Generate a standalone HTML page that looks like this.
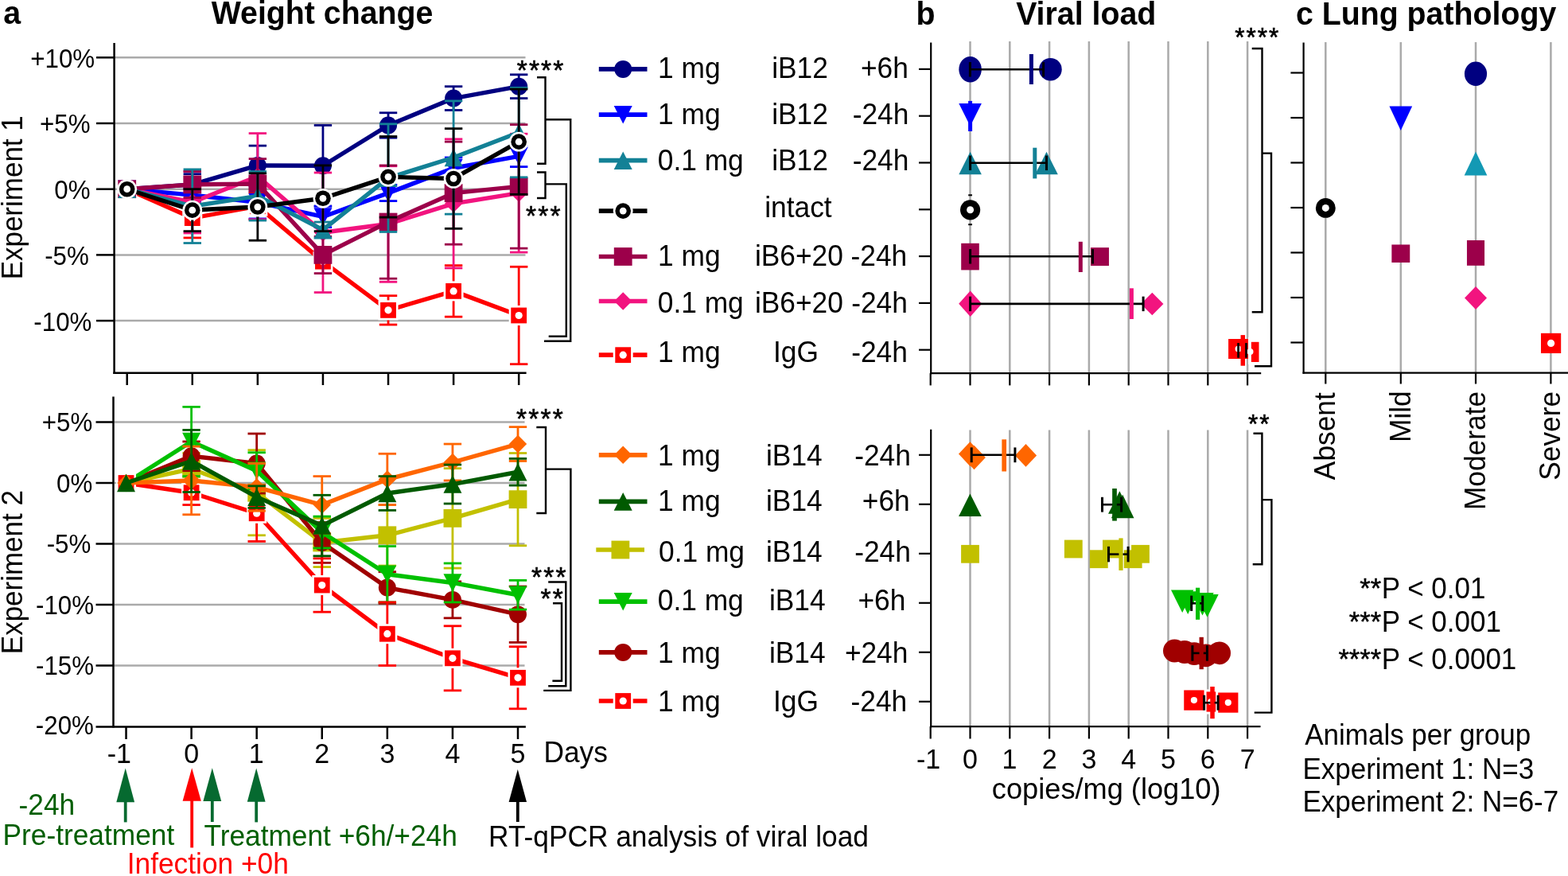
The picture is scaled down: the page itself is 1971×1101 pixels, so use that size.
<!DOCTYPE html>
<html><head><meta charset="utf-8"><title>Figure</title>
<style>html,body{margin:0;padding:0;background:#fff;} svg{display:block;}</style>
</head><body>
<svg width="1971" height="1101" viewBox="0 0 1971 1101" font-family="'Liberation Sans', Arial, Helvetica, sans-serif">
<rect width="1971" height="1101" fill="#fff"/>
<line x1="144.6" y1="72.3" x2="660.5" y2="72.3" stroke="#AAAAAA" stroke-width="2.5" stroke-linecap="butt"/>
<line x1="144.6" y1="155" x2="660.5" y2="155" stroke="#AAAAAA" stroke-width="2.5" stroke-linecap="butt"/>
<line x1="144.6" y1="237.7" x2="660.5" y2="237.7" stroke="#AAAAAA" stroke-width="2.5" stroke-linecap="butt"/>
<line x1="144.6" y1="320.4" x2="660.5" y2="320.4" stroke="#AAAAAA" stroke-width="2.5" stroke-linecap="butt"/>
<line x1="144.6" y1="403.1" x2="660.5" y2="403.1" stroke="#AAAAAA" stroke-width="2.5" stroke-linecap="butt"/>
<line x1="143.5" y1="530.5" x2="659.5" y2="530.5" stroke="#AAAAAA" stroke-width="2.5" stroke-linecap="butt"/>
<line x1="143.5" y1="607" x2="659.5" y2="607" stroke="#AAAAAA" stroke-width="2.5" stroke-linecap="butt"/>
<line x1="143.5" y1="683.5" x2="659.5" y2="683.5" stroke="#AAAAAA" stroke-width="2.5" stroke-linecap="butt"/>
<line x1="143.5" y1="760" x2="659.5" y2="760" stroke="#AAAAAA" stroke-width="2.5" stroke-linecap="butt"/>
<line x1="143.5" y1="836.5" x2="659.5" y2="836.5" stroke="#AAAAAA" stroke-width="2.5" stroke-linecap="butt"/>
<line x1="241.78" y1="249.28" x2="241.78" y2="298.9" stroke="#FF0000" stroke-width="2.8" stroke-linecap="butt"/>
<line x1="230.58" y1="249.28" x2="252.98" y2="249.28" stroke="#FF0000" stroke-width="2.8" stroke-linecap="butt"/>
<line x1="230.58" y1="298.9" x2="252.98" y2="298.9" stroke="#FF0000" stroke-width="2.8" stroke-linecap="butt"/>
<line x1="323.86" y1="242.66" x2="323.86" y2="275.74" stroke="#FF0000" stroke-width="2.8" stroke-linecap="butt"/>
<line x1="312.66" y1="242.66" x2="335.06" y2="242.66" stroke="#FF0000" stroke-width="2.8" stroke-linecap="butt"/>
<line x1="312.66" y1="275.74" x2="335.06" y2="275.74" stroke="#FF0000" stroke-width="2.8" stroke-linecap="butt"/>
<line x1="405.94" y1="320.4" x2="405.94" y2="336.94" stroke="#FF0000" stroke-width="2.8" stroke-linecap="butt"/>
<line x1="394.74" y1="320.4" x2="417.14" y2="320.4" stroke="#FF0000" stroke-width="2.8" stroke-linecap="butt"/>
<line x1="394.74" y1="336.94" x2="417.14" y2="336.94" stroke="#FF0000" stroke-width="2.8" stroke-linecap="butt"/>
<line x1="488.02" y1="371.67" x2="488.02" y2="408.06" stroke="#FF0000" stroke-width="2.8" stroke-linecap="butt"/>
<line x1="476.82" y1="371.67" x2="499.22" y2="371.67" stroke="#FF0000" stroke-width="2.8" stroke-linecap="butt"/>
<line x1="476.82" y1="408.06" x2="499.22" y2="408.06" stroke="#FF0000" stroke-width="2.8" stroke-linecap="butt"/>
<line x1="570.1" y1="333.63" x2="570.1" y2="398.14" stroke="#FF0000" stroke-width="2.8" stroke-linecap="butt"/>
<line x1="558.9" y1="333.63" x2="581.3" y2="333.63" stroke="#FF0000" stroke-width="2.8" stroke-linecap="butt"/>
<line x1="558.9" y1="398.14" x2="581.3" y2="398.14" stroke="#FF0000" stroke-width="2.8" stroke-linecap="butt"/>
<line x1="652.18" y1="335.29" x2="652.18" y2="457.68" stroke="#FF0000" stroke-width="2.8" stroke-linecap="butt"/>
<line x1="640.98" y1="335.29" x2="663.38" y2="335.29" stroke="#FF0000" stroke-width="2.8" stroke-linecap="butt"/>
<line x1="640.98" y1="457.68" x2="663.38" y2="457.68" stroke="#FF0000" stroke-width="2.8" stroke-linecap="butt"/>
<polyline points="159.7,237.7 241.78,274.09 323.86,259.2 405.94,328.67 488.02,389.87 570.1,365.88 652.18,396.48" fill="none" stroke="#FF0000" stroke-width="5.4" stroke-linejoin="round" stroke-linecap="butt"/>
<rect x="147.2" y="225.2" width="25" height="25" fill="#fff"/>
<rect x="149.8" y="227.8" width="19.8" height="19.8" fill="#FF0000"/>
<circle cx="159.7" cy="237.7" r="4.6" fill="#fff"/>
<rect x="229.28" y="261.59" width="25" height="25" fill="#fff"/>
<rect x="231.88" y="264.19" width="19.8" height="19.8" fill="#FF0000"/>
<circle cx="241.78" cy="274.09" r="4.6" fill="#fff"/>
<rect x="311.36" y="246.7" width="25" height="25" fill="#fff"/>
<rect x="313.96" y="249.3" width="19.8" height="19.8" fill="#FF0000"/>
<circle cx="323.86" cy="259.2" r="4.6" fill="#fff"/>
<rect x="393.44" y="316.17" width="25" height="25" fill="#fff"/>
<rect x="396.04" y="318.77" width="19.8" height="19.8" fill="#FF0000"/>
<circle cx="405.94" cy="328.67" r="4.6" fill="#fff"/>
<rect x="475.52" y="377.37" width="25" height="25" fill="#fff"/>
<rect x="478.12" y="379.97" width="19.8" height="19.8" fill="#FF0000"/>
<circle cx="488.02" cy="389.87" r="4.6" fill="#fff"/>
<rect x="557.6" y="353.38" width="25" height="25" fill="#fff"/>
<rect x="560.2" y="355.99" width="19.8" height="19.8" fill="#FF0000"/>
<circle cx="570.1" cy="365.88" r="4.6" fill="#fff"/>
<rect x="639.68" y="383.98" width="25" height="25" fill="#fff"/>
<rect x="642.28" y="386.58" width="19.8" height="19.8" fill="#FF0000"/>
<circle cx="652.18" cy="396.48" r="4.6" fill="#fff"/>
<line x1="241.78" y1="218.68" x2="241.78" y2="245.14" stroke="#000080" stroke-width="2.8" stroke-linecap="butt"/>
<line x1="230.58" y1="218.68" x2="252.98" y2="218.68" stroke="#000080" stroke-width="2.8" stroke-linecap="butt"/>
<line x1="230.58" y1="245.14" x2="252.98" y2="245.14" stroke="#000080" stroke-width="2.8" stroke-linecap="butt"/>
<line x1="323.86" y1="183.12" x2="323.86" y2="232.74" stroke="#000080" stroke-width="2.8" stroke-linecap="butt"/>
<line x1="312.66" y1="183.12" x2="335.06" y2="183.12" stroke="#000080" stroke-width="2.8" stroke-linecap="butt"/>
<line x1="312.66" y1="232.74" x2="335.06" y2="232.74" stroke="#000080" stroke-width="2.8" stroke-linecap="butt"/>
<line x1="405.94" y1="157.48" x2="405.94" y2="259.04" stroke="#000080" stroke-width="2.8" stroke-linecap="butt"/>
<line x1="394.74" y1="157.48" x2="417.14" y2="157.48" stroke="#000080" stroke-width="2.8" stroke-linecap="butt"/>
<line x1="394.74" y1="259.04" x2="417.14" y2="259.04" stroke="#000080" stroke-width="2.8" stroke-linecap="butt"/>
<line x1="488.02" y1="141.77" x2="488.02" y2="173.19" stroke="#000080" stroke-width="2.8" stroke-linecap="butt"/>
<line x1="476.82" y1="141.77" x2="499.22" y2="141.77" stroke="#000080" stroke-width="2.8" stroke-linecap="butt"/>
<line x1="476.82" y1="173.19" x2="499.22" y2="173.19" stroke="#000080" stroke-width="2.8" stroke-linecap="butt"/>
<line x1="570.1" y1="108.69" x2="570.1" y2="138.46" stroke="#000080" stroke-width="2.8" stroke-linecap="butt"/>
<line x1="558.9" y1="108.69" x2="581.3" y2="108.69" stroke="#000080" stroke-width="2.8" stroke-linecap="butt"/>
<line x1="558.9" y1="138.46" x2="581.3" y2="138.46" stroke="#000080" stroke-width="2.8" stroke-linecap="butt"/>
<line x1="652.18" y1="93.8" x2="652.18" y2="123.57" stroke="#000080" stroke-width="2.8" stroke-linecap="butt"/>
<line x1="640.98" y1="93.8" x2="663.38" y2="93.8" stroke="#000080" stroke-width="2.8" stroke-linecap="butt"/>
<line x1="640.98" y1="123.57" x2="663.38" y2="123.57" stroke="#000080" stroke-width="2.8" stroke-linecap="butt"/>
<polyline points="159.7,237.7 241.78,231.91 323.86,207.93 405.94,208.26 488.02,157.48 570.1,123.57 652.18,108.69" fill="none" stroke="#000080" stroke-width="5.4" stroke-linejoin="round" stroke-linecap="butt"/>
<circle cx="159.7" cy="237.7" r="11" fill="#000080"/>
<circle cx="241.78" cy="231.91" r="11" fill="#000080"/>
<circle cx="323.86" cy="207.93" r="11" fill="#000080"/>
<circle cx="405.94" cy="208.26" r="11" fill="#000080"/>
<circle cx="488.02" cy="157.48" r="11" fill="#000080"/>
<circle cx="570.1" cy="123.57" r="11" fill="#000080"/>
<circle cx="652.18" cy="108.69" r="11" fill="#000080"/>
<line x1="241.78" y1="236.87" x2="241.78" y2="253.41" stroke="#0000FF" stroke-width="2.8" stroke-linecap="butt"/>
<line x1="230.58" y1="236.87" x2="252.98" y2="236.87" stroke="#0000FF" stroke-width="2.8" stroke-linecap="butt"/>
<line x1="230.58" y1="253.41" x2="252.98" y2="253.41" stroke="#0000FF" stroke-width="2.8" stroke-linecap="butt"/>
<line x1="323.86" y1="233.56" x2="323.86" y2="274.91" stroke="#0000FF" stroke-width="2.8" stroke-linecap="butt"/>
<line x1="312.66" y1="233.56" x2="335.06" y2="233.56" stroke="#0000FF" stroke-width="2.8" stroke-linecap="butt"/>
<line x1="312.66" y1="274.91" x2="335.06" y2="274.91" stroke="#0000FF" stroke-width="2.8" stroke-linecap="butt"/>
<line x1="405.94" y1="259.2" x2="405.94" y2="285.67" stroke="#0000FF" stroke-width="2.8" stroke-linecap="butt"/>
<line x1="394.74" y1="259.2" x2="417.14" y2="259.2" stroke="#0000FF" stroke-width="2.8" stroke-linecap="butt"/>
<line x1="394.74" y1="285.67" x2="417.14" y2="285.67" stroke="#0000FF" stroke-width="2.8" stroke-linecap="butt"/>
<line x1="488.02" y1="232.74" x2="488.02" y2="252.59" stroke="#0000FF" stroke-width="2.8" stroke-linecap="butt"/>
<line x1="476.82" y1="232.74" x2="499.22" y2="232.74" stroke="#0000FF" stroke-width="2.8" stroke-linecap="butt"/>
<line x1="476.82" y1="252.59" x2="499.22" y2="252.59" stroke="#0000FF" stroke-width="2.8" stroke-linecap="butt"/>
<line x1="570.1" y1="198" x2="570.1" y2="224.47" stroke="#0000FF" stroke-width="2.8" stroke-linecap="butt"/>
<line x1="558.9" y1="198" x2="581.3" y2="198" stroke="#0000FF" stroke-width="2.8" stroke-linecap="butt"/>
<line x1="558.9" y1="224.47" x2="581.3" y2="224.47" stroke="#0000FF" stroke-width="2.8" stroke-linecap="butt"/>
<line x1="652.18" y1="183.12" x2="652.18" y2="209.58" stroke="#0000FF" stroke-width="2.8" stroke-linecap="butt"/>
<line x1="640.98" y1="183.12" x2="663.38" y2="183.12" stroke="#0000FF" stroke-width="2.8" stroke-linecap="butt"/>
<line x1="640.98" y1="209.58" x2="663.38" y2="209.58" stroke="#0000FF" stroke-width="2.8" stroke-linecap="butt"/>
<polyline points="159.7,237.7 241.78,245.14 323.86,254.24 405.94,272.43 488.02,242.66 570.1,211.24 652.18,196.35" fill="none" stroke="#0000FF" stroke-width="5.4" stroke-linejoin="round" stroke-linecap="butt"/>
<polygon points="148.2,226.4 171.2,226.4 159.7,249" fill="#0000FF"/>
<polygon points="230.28,233.84 253.28,233.84 241.78,256.44" fill="#0000FF"/>
<polygon points="312.36,242.94 335.36,242.94 323.86,265.54" fill="#0000FF"/>
<polygon points="394.44,261.13 417.44,261.13 405.94,283.73" fill="#0000FF"/>
<polygon points="476.52,231.36 499.52,231.36 488.02,253.96" fill="#0000FF"/>
<polygon points="558.6,199.94 581.6,199.94 570.1,222.54" fill="#0000FF"/>
<polygon points="640.68,185.05 663.68,185.05 652.18,207.65" fill="#0000FF"/>
<line x1="241.78" y1="215.54" x2="241.78" y2="292.94" stroke="#F2147F" stroke-width="2.8" stroke-linecap="butt"/>
<line x1="230.58" y1="215.54" x2="252.98" y2="215.54" stroke="#F2147F" stroke-width="2.8" stroke-linecap="butt"/>
<line x1="230.58" y1="292.94" x2="252.98" y2="292.94" stroke="#F2147F" stroke-width="2.8" stroke-linecap="butt"/>
<line x1="323.86" y1="167.57" x2="323.86" y2="275.74" stroke="#F2147F" stroke-width="2.8" stroke-linecap="butt"/>
<line x1="312.66" y1="167.57" x2="335.06" y2="167.57" stroke="#F2147F" stroke-width="2.8" stroke-linecap="butt"/>
<line x1="312.66" y1="275.74" x2="335.06" y2="275.74" stroke="#F2147F" stroke-width="2.8" stroke-linecap="butt"/>
<line x1="405.94" y1="217.02" x2="405.94" y2="367.54" stroke="#F2147F" stroke-width="2.8" stroke-linecap="butt"/>
<line x1="394.74" y1="217.02" x2="417.14" y2="217.02" stroke="#F2147F" stroke-width="2.8" stroke-linecap="butt"/>
<line x1="394.74" y1="367.54" x2="417.14" y2="367.54" stroke="#F2147F" stroke-width="2.8" stroke-linecap="butt"/>
<line x1="488.02" y1="208.75" x2="488.02" y2="354.31" stroke="#F2147F" stroke-width="2.8" stroke-linecap="butt"/>
<line x1="476.82" y1="208.75" x2="499.22" y2="208.75" stroke="#F2147F" stroke-width="2.8" stroke-linecap="butt"/>
<line x1="476.82" y1="354.31" x2="499.22" y2="354.31" stroke="#F2147F" stroke-width="2.8" stroke-linecap="butt"/>
<line x1="570.1" y1="174.85" x2="570.1" y2="336.94" stroke="#F2147F" stroke-width="2.8" stroke-linecap="butt"/>
<line x1="558.9" y1="174.85" x2="581.3" y2="174.85" stroke="#F2147F" stroke-width="2.8" stroke-linecap="butt"/>
<line x1="558.9" y1="336.94" x2="581.3" y2="336.94" stroke="#F2147F" stroke-width="2.8" stroke-linecap="butt"/>
<line x1="652.18" y1="168.23" x2="652.18" y2="317.09" stroke="#F2147F" stroke-width="2.8" stroke-linecap="butt"/>
<line x1="640.98" y1="168.23" x2="663.38" y2="168.23" stroke="#F2147F" stroke-width="2.8" stroke-linecap="butt"/>
<line x1="640.98" y1="317.09" x2="663.38" y2="317.09" stroke="#F2147F" stroke-width="2.8" stroke-linecap="butt"/>
<polyline points="159.7,237.7 241.78,254.24 323.86,221.66 405.94,292.28 488.02,281.53 570.1,255.89 652.18,242.66" fill="none" stroke="#F2147F" stroke-width="5.4" stroke-linejoin="round" stroke-linecap="butt"/>
<polygon points="159.7,226.5 170.9,237.7 159.7,248.9 148.5,237.7" fill="#F2147F"/>
<polygon points="241.78,243.04 252.98,254.24 241.78,265.44 230.58,254.24" fill="#F2147F"/>
<polygon points="323.86,210.46 335.06,221.66 323.86,232.86 312.66,221.66" fill="#F2147F"/>
<polygon points="405.94,281.08 417.14,292.28 405.94,303.48 394.74,292.28" fill="#F2147F"/>
<polygon points="488.02,270.33 499.22,281.53 488.02,292.73 476.82,281.53" fill="#F2147F"/>
<polygon points="570.1,244.69 581.3,255.89 570.1,267.09 558.9,255.89" fill="#F2147F"/>
<polygon points="652.18,231.46 663.38,242.66 652.18,253.86 640.98,242.66" fill="#F2147F"/>
<line x1="241.78" y1="215.37" x2="241.78" y2="248.45" stroke="#9C004A" stroke-width="2.8" stroke-linecap="butt"/>
<line x1="230.58" y1="215.37" x2="252.98" y2="215.37" stroke="#9C004A" stroke-width="2.8" stroke-linecap="butt"/>
<line x1="230.58" y1="248.45" x2="252.98" y2="248.45" stroke="#9C004A" stroke-width="2.8" stroke-linecap="butt"/>
<line x1="323.86" y1="199.66" x2="323.86" y2="262.51" stroke="#9C004A" stroke-width="2.8" stroke-linecap="butt"/>
<line x1="312.66" y1="199.66" x2="335.06" y2="199.66" stroke="#9C004A" stroke-width="2.8" stroke-linecap="butt"/>
<line x1="312.66" y1="262.51" x2="335.06" y2="262.51" stroke="#9C004A" stroke-width="2.8" stroke-linecap="butt"/>
<line x1="405.94" y1="297.24" x2="405.94" y2="343.56" stroke="#9C004A" stroke-width="2.8" stroke-linecap="butt"/>
<line x1="394.74" y1="297.24" x2="417.14" y2="297.24" stroke="#9C004A" stroke-width="2.8" stroke-linecap="butt"/>
<line x1="394.74" y1="343.56" x2="417.14" y2="343.56" stroke="#9C004A" stroke-width="2.8" stroke-linecap="butt"/>
<line x1="488.02" y1="207.93" x2="488.02" y2="350.17" stroke="#9C004A" stroke-width="2.8" stroke-linecap="butt"/>
<line x1="476.82" y1="207.93" x2="499.22" y2="207.93" stroke="#9C004A" stroke-width="2.8" stroke-linecap="butt"/>
<line x1="476.82" y1="350.17" x2="499.22" y2="350.17" stroke="#9C004A" stroke-width="2.8" stroke-linecap="butt"/>
<line x1="570.1" y1="178.16" x2="570.1" y2="307.17" stroke="#9C004A" stroke-width="2.8" stroke-linecap="butt"/>
<line x1="558.9" y1="178.16" x2="581.3" y2="178.16" stroke="#9C004A" stroke-width="2.8" stroke-linecap="butt"/>
<line x1="558.9" y1="307.17" x2="581.3" y2="307.17" stroke="#9C004A" stroke-width="2.8" stroke-linecap="butt"/>
<line x1="652.18" y1="156.65" x2="652.18" y2="312.13" stroke="#9C004A" stroke-width="2.8" stroke-linecap="butt"/>
<line x1="640.98" y1="156.65" x2="663.38" y2="156.65" stroke="#9C004A" stroke-width="2.8" stroke-linecap="butt"/>
<line x1="640.98" y1="312.13" x2="663.38" y2="312.13" stroke="#9C004A" stroke-width="2.8" stroke-linecap="butt"/>
<polyline points="159.7,237.7 241.78,231.91 323.86,231.08 405.94,320.4 488.02,279.05 570.1,242.66 652.18,234.39" fill="none" stroke="#9C004A" stroke-width="5.4" stroke-linejoin="round" stroke-linecap="butt"/>
<rect x="148.3" y="226.3" width="22.8" height="22.8" fill="#9C004A"/>
<rect x="230.38" y="220.51" width="22.8" height="22.8" fill="#9C004A"/>
<rect x="312.46" y="219.68" width="22.8" height="22.8" fill="#9C004A"/>
<rect x="394.54" y="309" width="22.8" height="22.8" fill="#9C004A"/>
<rect x="476.62" y="267.65" width="22.8" height="22.8" fill="#9C004A"/>
<rect x="558.7" y="231.26" width="22.8" height="22.8" fill="#9C004A"/>
<rect x="640.78" y="222.99" width="22.8" height="22.8" fill="#9C004A"/>
<line x1="241.78" y1="212.89" x2="241.78" y2="305.51" stroke="#138196" stroke-width="2.8" stroke-linecap="butt"/>
<line x1="230.58" y1="212.89" x2="252.98" y2="212.89" stroke="#138196" stroke-width="2.8" stroke-linecap="butt"/>
<line x1="230.58" y1="305.51" x2="252.98" y2="305.51" stroke="#138196" stroke-width="2.8" stroke-linecap="butt"/>
<line x1="323.86" y1="215.54" x2="323.86" y2="277.07" stroke="#138196" stroke-width="2.8" stroke-linecap="butt"/>
<line x1="312.66" y1="215.54" x2="335.06" y2="215.54" stroke="#138196" stroke-width="2.8" stroke-linecap="butt"/>
<line x1="312.66" y1="277.07" x2="335.06" y2="277.07" stroke="#138196" stroke-width="2.8" stroke-linecap="butt"/>
<line x1="405.94" y1="279.05" x2="405.94" y2="298.9" stroke="#138196" stroke-width="2.8" stroke-linecap="butt"/>
<line x1="394.74" y1="279.05" x2="417.14" y2="279.05" stroke="#138196" stroke-width="2.8" stroke-linecap="butt"/>
<line x1="394.74" y1="298.9" x2="417.14" y2="298.9" stroke="#138196" stroke-width="2.8" stroke-linecap="butt"/>
<line x1="488.02" y1="155.83" x2="488.02" y2="291.45" stroke="#138196" stroke-width="2.8" stroke-linecap="butt"/>
<line x1="476.82" y1="155.83" x2="499.22" y2="155.83" stroke="#138196" stroke-width="2.8" stroke-linecap="butt"/>
<line x1="476.82" y1="291.45" x2="499.22" y2="291.45" stroke="#138196" stroke-width="2.8" stroke-linecap="butt"/>
<line x1="570.1" y1="126.88" x2="570.1" y2="269.13" stroke="#138196" stroke-width="2.8" stroke-linecap="butt"/>
<line x1="558.9" y1="126.88" x2="581.3" y2="126.88" stroke="#138196" stroke-width="2.8" stroke-linecap="butt"/>
<line x1="558.9" y1="269.13" x2="581.3" y2="269.13" stroke="#138196" stroke-width="2.8" stroke-linecap="butt"/>
<line x1="652.18" y1="110.34" x2="652.18" y2="222.81" stroke="#138196" stroke-width="2.8" stroke-linecap="butt"/>
<line x1="640.98" y1="110.34" x2="663.38" y2="110.34" stroke="#138196" stroke-width="2.8" stroke-linecap="butt"/>
<line x1="640.98" y1="222.81" x2="663.38" y2="222.81" stroke="#138196" stroke-width="2.8" stroke-linecap="butt"/>
<polyline points="159.7,237.7 241.78,259.2 323.86,246.3 405.94,288.97 488.02,223.64 570.1,198 652.18,166.58" fill="none" stroke="#138196" stroke-width="5.4" stroke-linejoin="round" stroke-linecap="butt"/>
<polygon points="159.7,226.4 171.2,249 148.2,249" fill="#138196"/>
<polygon points="241.78,247.9 253.28,270.5 230.28,270.5" fill="#138196"/>
<polygon points="323.86,235 335.36,257.6 312.36,257.6" fill="#138196"/>
<polygon points="405.94,277.67 417.44,300.27 394.44,300.27" fill="#138196"/>
<polygon points="488.02,212.34 499.52,234.94 476.52,234.94" fill="#138196"/>
<polygon points="570.1,186.7 581.6,209.3 558.6,209.3" fill="#138196"/>
<polygon points="652.18,155.28 663.68,177.88 640.68,177.88" fill="#138196"/>
<line x1="241.78" y1="237.7" x2="241.78" y2="290.63" stroke="#000000" stroke-width="2.8" stroke-linecap="butt"/>
<line x1="230.58" y1="237.7" x2="252.98" y2="237.7" stroke="#000000" stroke-width="2.8" stroke-linecap="butt"/>
<line x1="230.58" y1="290.63" x2="252.98" y2="290.63" stroke="#000000" stroke-width="2.8" stroke-linecap="butt"/>
<line x1="323.86" y1="217.85" x2="323.86" y2="302.21" stroke="#000000" stroke-width="2.8" stroke-linecap="butt"/>
<line x1="312.66" y1="217.85" x2="335.06" y2="217.85" stroke="#000000" stroke-width="2.8" stroke-linecap="butt"/>
<line x1="312.66" y1="302.21" x2="335.06" y2="302.21" stroke="#000000" stroke-width="2.8" stroke-linecap="butt"/>
<line x1="405.94" y1="207.93" x2="405.94" y2="290.63" stroke="#000000" stroke-width="2.8" stroke-linecap="butt"/>
<line x1="394.74" y1="207.93" x2="417.14" y2="207.93" stroke="#000000" stroke-width="2.8" stroke-linecap="butt"/>
<line x1="394.74" y1="290.63" x2="417.14" y2="290.63" stroke="#000000" stroke-width="2.8" stroke-linecap="butt"/>
<line x1="488.02" y1="171.54" x2="488.02" y2="273.1" stroke="#000000" stroke-width="2.8" stroke-linecap="butt"/>
<line x1="476.82" y1="171.54" x2="499.22" y2="171.54" stroke="#000000" stroke-width="2.8" stroke-linecap="butt"/>
<line x1="476.82" y1="273.1" x2="499.22" y2="273.1" stroke="#000000" stroke-width="2.8" stroke-linecap="butt"/>
<line x1="570.1" y1="161.62" x2="570.1" y2="287.32" stroke="#000000" stroke-width="2.8" stroke-linecap="butt"/>
<line x1="558.9" y1="161.62" x2="581.3" y2="161.62" stroke="#000000" stroke-width="2.8" stroke-linecap="butt"/>
<line x1="558.9" y1="287.32" x2="581.3" y2="287.32" stroke="#000000" stroke-width="2.8" stroke-linecap="butt"/>
<line x1="652.18" y1="112" x2="652.18" y2="244.32" stroke="#000000" stroke-width="2.8" stroke-linecap="butt"/>
<line x1="640.98" y1="112" x2="663.38" y2="112" stroke="#000000" stroke-width="2.8" stroke-linecap="butt"/>
<line x1="640.98" y1="244.32" x2="663.38" y2="244.32" stroke="#000000" stroke-width="2.8" stroke-linecap="butt"/>
<polyline points="159.7,237.7 241.78,264.16 323.86,260.03 405.94,249.28 488.02,222.32 570.1,224.47 652.18,178.16" fill="none" stroke="#000000" stroke-width="5.4" stroke-linejoin="round" stroke-linecap="butt"/>
<circle cx="159.7" cy="237.7" r="12.4" fill="#fff"/>
<circle cx="159.7" cy="237.7" r="9.8" fill="#000"/>
<circle cx="159.7" cy="237.7" r="4.4" fill="#fff"/>
<circle cx="241.78" cy="264.16" r="12.4" fill="#fff"/>
<circle cx="241.78" cy="264.16" r="9.8" fill="#000"/>
<circle cx="241.78" cy="264.16" r="4.4" fill="#fff"/>
<circle cx="323.86" cy="260.03" r="12.4" fill="#fff"/>
<circle cx="323.86" cy="260.03" r="9.8" fill="#000"/>
<circle cx="323.86" cy="260.03" r="4.4" fill="#fff"/>
<circle cx="405.94" cy="249.28" r="12.4" fill="#fff"/>
<circle cx="405.94" cy="249.28" r="9.8" fill="#000"/>
<circle cx="405.94" cy="249.28" r="4.4" fill="#fff"/>
<circle cx="488.02" cy="222.32" r="12.4" fill="#fff"/>
<circle cx="488.02" cy="222.32" r="9.8" fill="#000"/>
<circle cx="488.02" cy="222.32" r="4.4" fill="#fff"/>
<circle cx="570.1" cy="224.47" r="12.4" fill="#fff"/>
<circle cx="570.1" cy="224.47" r="9.8" fill="#000"/>
<circle cx="570.1" cy="224.47" r="4.4" fill="#fff"/>
<circle cx="652.18" cy="178.16" r="12.4" fill="#fff"/>
<circle cx="652.18" cy="178.16" r="9.8" fill="#000"/>
<circle cx="652.18" cy="178.16" r="4.4" fill="#fff"/>
<line x1="240.6" y1="569.51" x2="240.6" y2="609.29" stroke="#C2C000" stroke-width="2.8" stroke-linecap="butt"/>
<line x1="229.4" y1="569.51" x2="251.8" y2="569.51" stroke="#C2C000" stroke-width="2.8" stroke-linecap="butt"/>
<line x1="229.4" y1="609.29" x2="251.8" y2="609.29" stroke="#C2C000" stroke-width="2.8" stroke-linecap="butt"/>
<line x1="322.68" y1="565.69" x2="322.68" y2="672.79" stroke="#C2C000" stroke-width="2.8" stroke-linecap="butt"/>
<line x1="311.48" y1="565.69" x2="333.88" y2="565.69" stroke="#C2C000" stroke-width="2.8" stroke-linecap="butt"/>
<line x1="311.48" y1="672.79" x2="333.88" y2="672.79" stroke="#C2C000" stroke-width="2.8" stroke-linecap="butt"/>
<line x1="404.76" y1="651.37" x2="404.76" y2="712.57" stroke="#C2C000" stroke-width="2.8" stroke-linecap="butt"/>
<line x1="393.56" y1="651.37" x2="415.96" y2="651.37" stroke="#C2C000" stroke-width="2.8" stroke-linecap="butt"/>
<line x1="393.56" y1="712.57" x2="415.96" y2="712.57" stroke="#C2C000" stroke-width="2.8" stroke-linecap="butt"/>
<line x1="486.84" y1="634.54" x2="486.84" y2="711.04" stroke="#C2C000" stroke-width="2.8" stroke-linecap="butt"/>
<line x1="475.64" y1="634.54" x2="498.04" y2="634.54" stroke="#C2C000" stroke-width="2.8" stroke-linecap="butt"/>
<line x1="475.64" y1="711.04" x2="498.04" y2="711.04" stroke="#C2C000" stroke-width="2.8" stroke-linecap="butt"/>
<line x1="568.92" y1="588.64" x2="568.92" y2="714.1" stroke="#C2C000" stroke-width="2.8" stroke-linecap="butt"/>
<line x1="557.72" y1="588.64" x2="580.12" y2="588.64" stroke="#C2C000" stroke-width="2.8" stroke-linecap="butt"/>
<line x1="557.72" y1="714.1" x2="580.12" y2="714.1" stroke="#C2C000" stroke-width="2.8" stroke-linecap="butt"/>
<line x1="651" y1="569.51" x2="651" y2="685.8" stroke="#C2C000" stroke-width="2.8" stroke-linecap="butt"/>
<line x1="639.8" y1="569.51" x2="662.2" y2="569.51" stroke="#C2C000" stroke-width="2.8" stroke-linecap="butt"/>
<line x1="639.8" y1="685.8" x2="662.2" y2="685.8" stroke="#C2C000" stroke-width="2.8" stroke-linecap="butt"/>
<polyline points="158.52,607 240.6,589.4 322.68,619.24 404.76,681.97 486.84,672.79 568.92,651.37 651,627.65" fill="none" stroke="#C2C000" stroke-width="5.4" stroke-linejoin="round" stroke-linecap="butt"/>
<rect x="147.12" y="595.6" width="22.8" height="22.8" fill="#C2C000"/>
<rect x="229.2" y="578" width="22.8" height="22.8" fill="#C2C000"/>
<rect x="311.28" y="607.84" width="22.8" height="22.8" fill="#C2C000"/>
<rect x="393.36" y="670.57" width="22.8" height="22.8" fill="#C2C000"/>
<rect x="475.44" y="661.39" width="22.8" height="22.8" fill="#C2C000"/>
<rect x="557.52" y="639.97" width="22.8" height="22.8" fill="#C2C000"/>
<rect x="639.6" y="616.25" width="22.8" height="22.8" fill="#C2C000"/>
<line x1="240.6" y1="554.98" x2="240.6" y2="591.7" stroke="#A00000" stroke-width="2.8" stroke-linecap="butt"/>
<line x1="229.4" y1="554.98" x2="251.8" y2="554.98" stroke="#A00000" stroke-width="2.8" stroke-linecap="butt"/>
<line x1="229.4" y1="591.7" x2="251.8" y2="591.7" stroke="#A00000" stroke-width="2.8" stroke-linecap="butt"/>
<line x1="322.68" y1="545.03" x2="322.68" y2="620" stroke="#A00000" stroke-width="2.8" stroke-linecap="butt"/>
<line x1="311.48" y1="545.03" x2="333.88" y2="545.03" stroke="#A00000" stroke-width="2.8" stroke-linecap="butt"/>
<line x1="311.48" y1="620" x2="333.88" y2="620" stroke="#A00000" stroke-width="2.8" stroke-linecap="butt"/>
<line x1="404.76" y1="656.57" x2="404.76" y2="707.37" stroke="#A00000" stroke-width="2.8" stroke-linecap="butt"/>
<line x1="393.56" y1="656.57" x2="415.96" y2="656.57" stroke="#A00000" stroke-width="2.8" stroke-linecap="butt"/>
<line x1="393.56" y1="707.37" x2="415.96" y2="707.37" stroke="#A00000" stroke-width="2.8" stroke-linecap="butt"/>
<line x1="486.84" y1="718.69" x2="486.84" y2="758.47" stroke="#A00000" stroke-width="2.8" stroke-linecap="butt"/>
<line x1="475.64" y1="718.69" x2="498.04" y2="718.69" stroke="#A00000" stroke-width="2.8" stroke-linecap="butt"/>
<line x1="475.64" y1="758.47" x2="498.04" y2="758.47" stroke="#A00000" stroke-width="2.8" stroke-linecap="butt"/>
<line x1="568.92" y1="730.93" x2="568.92" y2="776.83" stroke="#A00000" stroke-width="2.8" stroke-linecap="butt"/>
<line x1="557.72" y1="730.93" x2="580.12" y2="730.93" stroke="#A00000" stroke-width="2.8" stroke-linecap="butt"/>
<line x1="557.72" y1="776.83" x2="580.12" y2="776.83" stroke="#A00000" stroke-width="2.8" stroke-linecap="butt"/>
<line x1="651" y1="737.05" x2="651" y2="807.43" stroke="#A00000" stroke-width="2.8" stroke-linecap="butt"/>
<line x1="639.8" y1="737.05" x2="662.2" y2="737.05" stroke="#A00000" stroke-width="2.8" stroke-linecap="butt"/>
<line x1="639.8" y1="807.43" x2="662.2" y2="807.43" stroke="#A00000" stroke-width="2.8" stroke-linecap="butt"/>
<polyline points="158.52,607 240.6,573.34 322.68,582.52 404.76,681.97 486.84,738.58 568.92,753.88 651,772.24" fill="none" stroke="#A00000" stroke-width="5.4" stroke-linejoin="round" stroke-linecap="butt"/>
<circle cx="158.52" cy="607" r="11" fill="#A00000"/>
<circle cx="240.6" cy="573.34" r="11" fill="#A00000"/>
<circle cx="322.68" cy="582.52" r="11" fill="#A00000"/>
<circle cx="404.76" cy="681.97" r="11" fill="#A00000"/>
<circle cx="486.84" cy="738.58" r="11" fill="#A00000"/>
<circle cx="568.92" cy="753.88" r="11" fill="#A00000"/>
<circle cx="651" cy="772.24" r="11" fill="#A00000"/>
<line x1="240.6" y1="511.38" x2="240.6" y2="598.59" stroke="#00C000" stroke-width="2.8" stroke-linecap="butt"/>
<line x1="229.4" y1="511.38" x2="251.8" y2="511.38" stroke="#00C000" stroke-width="2.8" stroke-linecap="butt"/>
<line x1="229.4" y1="598.59" x2="251.8" y2="598.59" stroke="#00C000" stroke-width="2.8" stroke-linecap="butt"/>
<line x1="322.68" y1="568.75" x2="322.68" y2="614.65" stroke="#00C000" stroke-width="2.8" stroke-linecap="butt"/>
<line x1="311.48" y1="568.75" x2="333.88" y2="568.75" stroke="#00C000" stroke-width="2.8" stroke-linecap="butt"/>
<line x1="311.48" y1="614.65" x2="333.88" y2="614.65" stroke="#00C000" stroke-width="2.8" stroke-linecap="butt"/>
<line x1="404.76" y1="649.08" x2="404.76" y2="688.86" stroke="#00C000" stroke-width="2.8" stroke-linecap="butt"/>
<line x1="393.56" y1="649.08" x2="415.96" y2="649.08" stroke="#00C000" stroke-width="2.8" stroke-linecap="butt"/>
<line x1="393.56" y1="688.86" x2="415.96" y2="688.86" stroke="#00C000" stroke-width="2.8" stroke-linecap="butt"/>
<line x1="486.84" y1="686.56" x2="486.84" y2="756.94" stroke="#00C000" stroke-width="2.8" stroke-linecap="butt"/>
<line x1="475.64" y1="686.56" x2="498.04" y2="686.56" stroke="#00C000" stroke-width="2.8" stroke-linecap="butt"/>
<line x1="475.64" y1="756.94" x2="498.04" y2="756.94" stroke="#00C000" stroke-width="2.8" stroke-linecap="butt"/>
<line x1="568.92" y1="707.98" x2="568.92" y2="756.94" stroke="#00C000" stroke-width="2.8" stroke-linecap="butt"/>
<line x1="557.72" y1="707.98" x2="580.12" y2="707.98" stroke="#00C000" stroke-width="2.8" stroke-linecap="butt"/>
<line x1="557.72" y1="756.94" x2="580.12" y2="756.94" stroke="#00C000" stroke-width="2.8" stroke-linecap="butt"/>
<line x1="651" y1="729.4" x2="651" y2="766.12" stroke="#00C000" stroke-width="2.8" stroke-linecap="butt"/>
<line x1="639.8" y1="729.4" x2="662.2" y2="729.4" stroke="#00C000" stroke-width="2.8" stroke-linecap="butt"/>
<line x1="639.8" y1="766.12" x2="662.2" y2="766.12" stroke="#00C000" stroke-width="2.8" stroke-linecap="butt"/>
<polyline points="158.52,607 240.6,554.98 322.68,591.7 404.76,668.97 486.84,721.75 568.92,732.46 651,747.76" fill="none" stroke="#00C000" stroke-width="5.4" stroke-linejoin="round" stroke-linecap="butt"/>
<polygon points="147.02,595.7 170.02,595.7 158.52,618.3" fill="#00C000"/>
<polygon points="229.1,543.68 252.1,543.68 240.6,566.28" fill="#00C000"/>
<polygon points="311.18,580.4 334.18,580.4 322.68,603" fill="#00C000"/>
<polygon points="393.26,657.67 416.26,657.67 404.76,680.26" fill="#00C000"/>
<polygon points="475.34,710.45 498.34,710.45 486.84,733.05" fill="#00C000"/>
<polygon points="557.42,721.16 580.42,721.16 568.92,743.76" fill="#00C000"/>
<polygon points="639.5,736.46 662.5,736.46 651,759.06" fill="#00C000"/>
<line x1="240.6" y1="603.94" x2="240.6" y2="634.54" stroke="#FF0000" stroke-width="2.8" stroke-linecap="butt"/>
<line x1="229.4" y1="603.94" x2="251.8" y2="603.94" stroke="#FF0000" stroke-width="2.8" stroke-linecap="butt"/>
<line x1="229.4" y1="634.54" x2="251.8" y2="634.54" stroke="#FF0000" stroke-width="2.8" stroke-linecap="butt"/>
<line x1="322.68" y1="610.06" x2="322.68" y2="680.44" stroke="#FF0000" stroke-width="2.8" stroke-linecap="butt"/>
<line x1="311.48" y1="610.06" x2="333.88" y2="610.06" stroke="#FF0000" stroke-width="2.8" stroke-linecap="butt"/>
<line x1="311.48" y1="680.44" x2="333.88" y2="680.44" stroke="#FF0000" stroke-width="2.8" stroke-linecap="butt"/>
<line x1="404.76" y1="701.86" x2="404.76" y2="769.18" stroke="#FF0000" stroke-width="2.8" stroke-linecap="butt"/>
<line x1="393.56" y1="701.86" x2="415.96" y2="701.86" stroke="#FF0000" stroke-width="2.8" stroke-linecap="butt"/>
<line x1="393.56" y1="769.18" x2="415.96" y2="769.18" stroke="#FF0000" stroke-width="2.8" stroke-linecap="butt"/>
<line x1="486.84" y1="756.94" x2="486.84" y2="836.5" stroke="#FF0000" stroke-width="2.8" stroke-linecap="butt"/>
<line x1="475.64" y1="756.94" x2="498.04" y2="756.94" stroke="#FF0000" stroke-width="2.8" stroke-linecap="butt"/>
<line x1="475.64" y1="836.5" x2="498.04" y2="836.5" stroke="#FF0000" stroke-width="2.8" stroke-linecap="butt"/>
<line x1="568.92" y1="786.77" x2="568.92" y2="867.87" stroke="#FF0000" stroke-width="2.8" stroke-linecap="butt"/>
<line x1="557.72" y1="786.77" x2="580.12" y2="786.77" stroke="#FF0000" stroke-width="2.8" stroke-linecap="butt"/>
<line x1="557.72" y1="867.87" x2="580.12" y2="867.87" stroke="#FF0000" stroke-width="2.8" stroke-linecap="butt"/>
<line x1="651" y1="812.78" x2="651" y2="890.82" stroke="#FF0000" stroke-width="2.8" stroke-linecap="butt"/>
<line x1="639.8" y1="812.78" x2="662.2" y2="812.78" stroke="#FF0000" stroke-width="2.8" stroke-linecap="butt"/>
<line x1="639.8" y1="890.82" x2="662.2" y2="890.82" stroke="#FF0000" stroke-width="2.8" stroke-linecap="butt"/>
<polyline points="158.52,607 240.6,619.24 322.68,645.25 404.76,735.52 486.84,796.72 568.92,827.32 651,851.8" fill="none" stroke="#FF0000" stroke-width="5.4" stroke-linejoin="round" stroke-linecap="butt"/>
<rect x="146.02" y="594.5" width="25" height="25" fill="#fff"/>
<rect x="148.62" y="597.1" width="19.8" height="19.8" fill="#FF0000"/>
<circle cx="158.52" cy="607" r="4.6" fill="#fff"/>
<rect x="228.1" y="606.74" width="25" height="25" fill="#fff"/>
<rect x="230.7" y="609.34" width="19.8" height="19.8" fill="#FF0000"/>
<circle cx="240.6" cy="619.24" r="4.6" fill="#fff"/>
<rect x="310.18" y="632.75" width="25" height="25" fill="#fff"/>
<rect x="312.78" y="635.35" width="19.8" height="19.8" fill="#FF0000"/>
<circle cx="322.68" cy="645.25" r="4.6" fill="#fff"/>
<rect x="392.26" y="723.02" width="25" height="25" fill="#fff"/>
<rect x="394.86" y="725.62" width="19.8" height="19.8" fill="#FF0000"/>
<circle cx="404.76" cy="735.52" r="4.6" fill="#fff"/>
<rect x="474.34" y="784.22" width="25" height="25" fill="#fff"/>
<rect x="476.94" y="786.82" width="19.8" height="19.8" fill="#FF0000"/>
<circle cx="486.84" cy="796.72" r="4.6" fill="#fff"/>
<rect x="556.42" y="814.82" width="25" height="25" fill="#fff"/>
<rect x="559.02" y="817.42" width="19.8" height="19.8" fill="#FF0000"/>
<circle cx="568.92" cy="827.32" r="4.6" fill="#fff"/>
<rect x="638.5" y="839.3" width="25" height="25" fill="#fff"/>
<rect x="641.1" y="841.9" width="19.8" height="19.8" fill="#FF0000"/>
<circle cx="651" cy="851.8" r="4.6" fill="#fff"/>
<line x1="240.6" y1="561.1" x2="240.6" y2="646.78" stroke="#FF6600" stroke-width="2.8" stroke-linecap="butt"/>
<line x1="229.4" y1="561.1" x2="251.8" y2="561.1" stroke="#FF6600" stroke-width="2.8" stroke-linecap="butt"/>
<line x1="229.4" y1="646.78" x2="251.8" y2="646.78" stroke="#FF6600" stroke-width="2.8" stroke-linecap="butt"/>
<line x1="322.68" y1="582.52" x2="322.68" y2="642.19" stroke="#FF6600" stroke-width="2.8" stroke-linecap="butt"/>
<line x1="311.48" y1="582.52" x2="333.88" y2="582.52" stroke="#FF6600" stroke-width="2.8" stroke-linecap="butt"/>
<line x1="311.48" y1="642.19" x2="333.88" y2="642.19" stroke="#FF6600" stroke-width="2.8" stroke-linecap="butt"/>
<line x1="404.76" y1="598.59" x2="404.76" y2="670.5" stroke="#FF6600" stroke-width="2.8" stroke-linecap="butt"/>
<line x1="393.56" y1="598.59" x2="415.96" y2="598.59" stroke="#FF6600" stroke-width="2.8" stroke-linecap="butt"/>
<line x1="393.56" y1="670.5" x2="415.96" y2="670.5" stroke="#FF6600" stroke-width="2.8" stroke-linecap="butt"/>
<line x1="486.84" y1="570.28" x2="486.84" y2="634.54" stroke="#FF6600" stroke-width="2.8" stroke-linecap="butt"/>
<line x1="475.64" y1="570.28" x2="498.04" y2="570.28" stroke="#FF6600" stroke-width="2.8" stroke-linecap="butt"/>
<line x1="475.64" y1="634.54" x2="498.04" y2="634.54" stroke="#FF6600" stroke-width="2.8" stroke-linecap="butt"/>
<line x1="568.92" y1="558.04" x2="568.92" y2="603.94" stroke="#FF6600" stroke-width="2.8" stroke-linecap="butt"/>
<line x1="557.72" y1="558.04" x2="580.12" y2="558.04" stroke="#FF6600" stroke-width="2.8" stroke-linecap="butt"/>
<line x1="557.72" y1="603.94" x2="580.12" y2="603.94" stroke="#FF6600" stroke-width="2.8" stroke-linecap="butt"/>
<line x1="651" y1="536.62" x2="651" y2="579.46" stroke="#FF6600" stroke-width="2.8" stroke-linecap="butt"/>
<line x1="639.8" y1="536.62" x2="662.2" y2="536.62" stroke="#FF6600" stroke-width="2.8" stroke-linecap="butt"/>
<line x1="639.8" y1="579.46" x2="662.2" y2="579.46" stroke="#FF6600" stroke-width="2.8" stroke-linecap="butt"/>
<polyline points="158.52,607 240.6,603.94 322.68,612.36 404.76,634.54 486.84,602.41 568.92,580.99 651,558.04" fill="none" stroke="#FF6600" stroke-width="5.4" stroke-linejoin="round" stroke-linecap="butt"/>
<polygon points="158.52,595.8 169.72,607 158.52,618.2 147.32,607" fill="#FF6600"/>
<polygon points="240.6,592.74 251.8,603.94 240.6,615.14 229.4,603.94" fill="#FF6600"/>
<polygon points="322.68,601.15 333.88,612.36 322.68,623.56 311.48,612.36" fill="#FF6600"/>
<polygon points="404.76,623.34 415.96,634.54 404.76,645.74 393.56,634.54" fill="#FF6600"/>
<polygon points="486.84,591.21 498.04,602.41 486.84,613.61 475.64,602.41" fill="#FF6600"/>
<polygon points="568.92,569.79 580.12,580.99 568.92,592.19 557.72,580.99" fill="#FF6600"/>
<polygon points="651,546.84 662.2,558.04 651,569.24 639.8,558.04" fill="#FF6600"/>
<line x1="240.6" y1="540.45" x2="240.6" y2="618.48" stroke="#005A00" stroke-width="2.8" stroke-linecap="butt"/>
<line x1="229.4" y1="540.45" x2="251.8" y2="540.45" stroke="#005A00" stroke-width="2.8" stroke-linecap="butt"/>
<line x1="229.4" y1="618.48" x2="251.8" y2="618.48" stroke="#005A00" stroke-width="2.8" stroke-linecap="butt"/>
<line x1="322.68" y1="610.83" x2="322.68" y2="638.37" stroke="#005A00" stroke-width="2.8" stroke-linecap="butt"/>
<line x1="311.48" y1="610.83" x2="333.88" y2="610.83" stroke="#005A00" stroke-width="2.8" stroke-linecap="butt"/>
<line x1="311.48" y1="638.37" x2="333.88" y2="638.37" stroke="#005A00" stroke-width="2.8" stroke-linecap="butt"/>
<line x1="404.76" y1="622.3" x2="404.76" y2="698.8" stroke="#005A00" stroke-width="2.8" stroke-linecap="butt"/>
<line x1="393.56" y1="622.3" x2="415.96" y2="622.3" stroke="#005A00" stroke-width="2.8" stroke-linecap="butt"/>
<line x1="393.56" y1="698.8" x2="415.96" y2="698.8" stroke="#005A00" stroke-width="2.8" stroke-linecap="butt"/>
<line x1="486.84" y1="598.59" x2="486.84" y2="641.42" stroke="#005A00" stroke-width="2.8" stroke-linecap="butt"/>
<line x1="475.64" y1="598.59" x2="498.04" y2="598.59" stroke="#005A00" stroke-width="2.8" stroke-linecap="butt"/>
<line x1="475.64" y1="641.42" x2="498.04" y2="641.42" stroke="#005A00" stroke-width="2.8" stroke-linecap="butt"/>
<line x1="568.92" y1="584.05" x2="568.92" y2="633.01" stroke="#005A00" stroke-width="2.8" stroke-linecap="butt"/>
<line x1="557.72" y1="584.05" x2="580.12" y2="584.05" stroke="#005A00" stroke-width="2.8" stroke-linecap="butt"/>
<line x1="557.72" y1="633.01" x2="580.12" y2="633.01" stroke="#005A00" stroke-width="2.8" stroke-linecap="butt"/>
<line x1="651" y1="576.4" x2="651" y2="610.06" stroke="#005A00" stroke-width="2.8" stroke-linecap="butt"/>
<line x1="639.8" y1="576.4" x2="662.2" y2="576.4" stroke="#005A00" stroke-width="2.8" stroke-linecap="butt"/>
<line x1="639.8" y1="610.06" x2="662.2" y2="610.06" stroke="#005A00" stroke-width="2.8" stroke-linecap="butt"/>
<polyline points="158.52,607 240.6,579.46 322.68,624.6 404.76,660.55 486.84,620 568.92,608.53 651,593.23" fill="none" stroke="#005A00" stroke-width="5.4" stroke-linejoin="round" stroke-linecap="butt"/>
<polygon points="158.52,595.7 170.02,618.3 147.02,618.3" fill="#005A00"/>
<polygon points="240.6,568.16 252.1,590.76 229.1,590.76" fill="#005A00"/>
<polygon points="322.68,613.3 334.18,635.89 311.18,635.89" fill="#005A00"/>
<polygon points="404.76,649.25 416.26,671.85 393.26,671.85" fill="#005A00"/>
<polygon points="486.84,608.71 498.34,631.3 475.34,631.3" fill="#005A00"/>
<polygon points="568.92,597.23 580.42,619.83 557.42,619.83" fill="#005A00"/>
<polygon points="651,581.93 662.5,604.53 639.5,604.53" fill="#005A00"/>
<line x1="143.6" y1="54" x2="143.6" y2="470" stroke="#000" stroke-width="2.5" stroke-linecap="butt"/>
<line x1="142.35" y1="468.8" x2="661.6" y2="468.8" stroke="#000" stroke-width="2.5" stroke-linecap="butt"/>
<line x1="159.7" y1="468.8" x2="159.7" y2="484" stroke="#000" stroke-width="2.5" stroke-linecap="butt"/>
<line x1="241.78" y1="468.8" x2="241.78" y2="484" stroke="#000" stroke-width="2.5" stroke-linecap="butt"/>
<line x1="323.86" y1="468.8" x2="323.86" y2="484" stroke="#000" stroke-width="2.5" stroke-linecap="butt"/>
<line x1="405.94" y1="468.8" x2="405.94" y2="484" stroke="#000" stroke-width="2.5" stroke-linecap="butt"/>
<line x1="488.02" y1="468.8" x2="488.02" y2="484" stroke="#000" stroke-width="2.5" stroke-linecap="butt"/>
<line x1="570.1" y1="468.8" x2="570.1" y2="484" stroke="#000" stroke-width="2.5" stroke-linecap="butt"/>
<line x1="652.18" y1="468.8" x2="652.18" y2="484" stroke="#000" stroke-width="2.5" stroke-linecap="butt"/>
<line x1="121" y1="72.3" x2="143.6" y2="72.3" stroke="#000" stroke-width="2.5" stroke-linecap="butt"/>
<text transform="translate(38.29,84.7) scale(1,1.04)" font-size="31.3" fill="#000">+10%</text>
<line x1="121" y1="155" x2="143.6" y2="155" stroke="#000" stroke-width="2.5" stroke-linecap="butt"/>
<text transform="translate(50,167.4) scale(1,1.04)" font-size="31.3" fill="#000">+5%</text>
<line x1="121" y1="237.7" x2="143.6" y2="237.7" stroke="#000" stroke-width="2.5" stroke-linecap="butt"/>
<text transform="translate(68.28,250.1) scale(1,1.04)" font-size="31.3" fill="#000">0%</text>
<line x1="121" y1="320.4" x2="143.6" y2="320.4" stroke="#000" stroke-width="2.5" stroke-linecap="butt"/>
<text transform="translate(56.15,332.8) scale(1,1.04)" font-size="31.3" fill="#000">-5%</text>
<line x1="121" y1="403.1" x2="143.6" y2="403.1" stroke="#000" stroke-width="2.5" stroke-linecap="butt"/>
<text transform="translate(42.35,415.5) scale(1,1.04)" font-size="31.3" fill="#000">-10%</text>
<line x1="142.5" y1="498.4" x2="142.5" y2="914.6" stroke="#000" stroke-width="2.5" stroke-linecap="butt"/>
<line x1="120.5" y1="913.5" x2="660.9" y2="913.5" stroke="#000" stroke-width="2.5" stroke-linecap="butt"/>
<line x1="158.52" y1="913.5" x2="158.52" y2="929" stroke="#000" stroke-width="2.5" stroke-linecap="butt"/>
<line x1="240.6" y1="913.5" x2="240.6" y2="929" stroke="#000" stroke-width="2.5" stroke-linecap="butt"/>
<line x1="322.68" y1="913.5" x2="322.68" y2="929" stroke="#000" stroke-width="2.5" stroke-linecap="butt"/>
<line x1="404.76" y1="913.5" x2="404.76" y2="929" stroke="#000" stroke-width="2.5" stroke-linecap="butt"/>
<line x1="486.84" y1="913.5" x2="486.84" y2="929" stroke="#000" stroke-width="2.5" stroke-linecap="butt"/>
<line x1="568.92" y1="913.5" x2="568.92" y2="929" stroke="#000" stroke-width="2.5" stroke-linecap="butt"/>
<line x1="651" y1="913.5" x2="651" y2="929" stroke="#000" stroke-width="2.5" stroke-linecap="butt"/>
<line x1="120.5" y1="530.5" x2="142.5" y2="530.5" stroke="#000" stroke-width="2.5" stroke-linecap="butt"/>
<text transform="translate(52.8,542) scale(1,1.04)" font-size="31.3" fill="#000">+5%</text>
<line x1="120.5" y1="607" x2="142.5" y2="607" stroke="#000" stroke-width="2.5" stroke-linecap="butt"/>
<text transform="translate(71.08,618.5) scale(1,1.04)" font-size="31.3" fill="#000">0%</text>
<line x1="120.5" y1="683.5" x2="142.5" y2="683.5" stroke="#000" stroke-width="2.5" stroke-linecap="butt"/>
<text transform="translate(58.65,695) scale(1,1.04)" font-size="31.3" fill="#000">-5%</text>
<line x1="120.5" y1="760" x2="142.5" y2="760" stroke="#000" stroke-width="2.5" stroke-linecap="butt"/>
<text transform="translate(45.05,771.5) scale(1,1.04)" font-size="31.3" fill="#000">-10%</text>
<line x1="120.5" y1="836.5" x2="142.5" y2="836.5" stroke="#000" stroke-width="2.5" stroke-linecap="butt"/>
<text transform="translate(45.05,848) scale(1,1.04)" font-size="31.3" fill="#000">-15%</text>
<text transform="translate(44.85,922.5) scale(1,1.04)" font-size="31.3" fill="#000">-20%</text>
<text transform="translate(134.79,959.3) scale(1,1.04)" font-size="34" fill="#000">-1</text>
<text transform="translate(231.15,959.3) scale(1,1.04)" font-size="34" fill="#000">0</text>
<text transform="translate(312.76,959.3) scale(1,1.04)" font-size="34" fill="#000">1</text>
<text transform="translate(395.31,959.3) scale(1,1.04)" font-size="34" fill="#000">2</text>
<text transform="translate(477.49,959.3) scale(1,1.04)" font-size="34" fill="#000">3</text>
<text transform="translate(559.57,959.3) scale(1,1.04)" font-size="34" fill="#000">4</text>
<text transform="translate(641.58,959.3) scale(1,1.04)" font-size="34" fill="#000">5</text>
<text transform="translate(683.5,957.8) scale(1,1.04)" font-size="35.3" fill="#000">Days</text>
<text transform="translate(28.2,351.37) rotate(-90) scale(1,1.04)" font-size="35" fill="#000">Experiment 1</text>
<text transform="translate(28,822.17) rotate(-90) scale(1,1.04)" font-size="35" fill="#000">Experiment 2</text>
<polyline points="675,97.2 685.5,97.2 685.5,205.8 675,205.8" fill="none" stroke="#000" stroke-width="2.4" stroke-linejoin="miter" stroke-linecap="butt"/>
<polyline points="685.5,150.3 717.2,150.3 717.2,428.8 684,428.8" fill="none" stroke="#000" stroke-width="2.4" stroke-linejoin="miter" stroke-linecap="butt"/>
<polyline points="675,216.5 685.5,216.5 685.5,249 675,249" fill="none" stroke="#000" stroke-width="2.4" stroke-linejoin="miter" stroke-linecap="butt"/>
<polyline points="685.5,231.4 711.8,231.4 711.8,422.7 689.7,422.7" fill="none" stroke="#000" stroke-width="2.4" stroke-linejoin="miter" stroke-linecap="butt"/>
<polyline points="674.3,537 686,537 686,645 674.3,645" fill="none" stroke="#000" stroke-width="2.4" stroke-linejoin="miter" stroke-linecap="butt"/>
<polyline points="686,589.6 717.4,589.6 717.4,867.9 683.2,867.9" fill="none" stroke="#000" stroke-width="2.4" stroke-linejoin="miter" stroke-linecap="butt"/>
<polyline points="689.2,731.5 711.3,731.5 711.3,862.2 689.2,862.2" fill="none" stroke="#000" stroke-width="2.4" stroke-linejoin="miter" stroke-linecap="butt"/>
<polyline points="695,758.2 706,758.2 706,855.8 694.4,855.8" fill="none" stroke="#000" stroke-width="2.4" stroke-linejoin="miter" stroke-linecap="butt"/>
<text transform="translate(649.66,99.54) scale(1,1.04)" font-size="33.5" letter-spacing="2.2" stroke="#000" stroke-width="0.6" fill="#000">****</text>
<text transform="translate(660.96,282.64) scale(1,1.04)" font-size="33.5" letter-spacing="2.2" stroke="#000" stroke-width="0.6" fill="#000">***</text>
<text transform="translate(648.96,537.54) scale(1,1.04)" font-size="33.5" letter-spacing="2.2" stroke="#000" stroke-width="0.6" fill="#000">****</text>
<text transform="translate(667.96,737.14) scale(1,1.04)" font-size="33.5" letter-spacing="2.2" stroke="#000" stroke-width="0.6" fill="#000">***</text>
<text transform="translate(679.46,763.54) scale(1,1.04)" font-size="33.5" letter-spacing="2.2" stroke="#000" stroke-width="0.6" fill="#000">**</text>
<line x1="752.8" y1="86.9" x2="813.5" y2="86.9" stroke="#000080" stroke-width="5.7" stroke-linecap="butt"/>
<circle cx="783.2" cy="86.9" r="11" fill="#000080"/>
<text transform="translate(827.11,97.8) scale(1,1.04)" font-size="35.3" fill="#000">1 mg</text>
<text transform="translate(970.18,97.8) scale(1,1.04)" font-size="35.3" fill="#000">iB12</text>
<text transform="translate(1081.91,97.8) scale(1,1.04)" font-size="35.3" fill="#000">+6h</text>
<line x1="752.8" y1="144.2" x2="813.5" y2="144.2" stroke="#0000FF" stroke-width="5.7" stroke-linecap="butt"/>
<polygon points="771.7,132.9 794.7,132.9 783.2,155.5" fill="#0000FF"/>
<text transform="translate(827.11,155.5) scale(1,1.04)" font-size="35.3" fill="#000">1 mg</text>
<text transform="translate(970.18,155.5) scale(1,1.04)" font-size="35.3" fill="#000">iB12</text>
<text transform="translate(1071.64,155.5) scale(1,1.04)" font-size="35.3" fill="#000">-24h</text>
<line x1="752.8" y1="201.7" x2="813.5" y2="201.7" stroke="#138196" stroke-width="5.7" stroke-linecap="butt"/>
<polygon points="783.2,190.4 794.7,213 771.7,213" fill="#138196"/>
<text transform="translate(826.82,213.5) scale(1,1.04)" font-size="35.3" fill="#000">0.1 mg</text>
<text transform="translate(970.18,213.5) scale(1,1.04)" font-size="35.3" fill="#000">iB12</text>
<text transform="translate(1071.64,213.5) scale(1,1.04)" font-size="35.3" fill="#000">-24h</text>
<line x1="752.8" y1="265.1" x2="813.5" y2="265.1" stroke="#000000" stroke-width="5.7" stroke-linecap="butt"/>
<circle cx="783.2" cy="265.1" r="12.4" fill="#fff"/>
<circle cx="783.2" cy="265.1" r="9.8" fill="#000"/>
<circle cx="783.2" cy="265.1" r="4.4" fill="#fff"/>
<text transform="translate(961.26,273) scale(1,1.04)" font-size="35.3" fill="#000">intact</text>
<line x1="752.8" y1="322.5" x2="813.5" y2="322.5" stroke="#9C004A" stroke-width="5.7" stroke-linecap="butt"/>
<rect x="771.8" y="311.1" width="22.8" height="22.8" fill="#9C004A"/>
<text transform="translate(827.11,333.5) scale(1,1.04)" font-size="35.3" fill="#000">1 mg</text>
<text transform="translate(948.96,333.5) scale(1,1.04)" font-size="35.3" fill="#000">iB6+20</text>
<text transform="translate(1069.54,333.5) scale(1,1.04)" font-size="35.3" fill="#000">-24h</text>
<line x1="752.8" y1="378.5" x2="813.5" y2="378.5" stroke="#F2147F" stroke-width="5.7" stroke-linecap="butt"/>
<polygon points="783.2,367.3 794.4,378.5 783.2,389.7 772,378.5" fill="#F2147F"/>
<text transform="translate(826.82,392.5) scale(1,1.04)" font-size="35.3" fill="#000">0.1 mg</text>
<text transform="translate(948.96,392.5) scale(1,1.04)" font-size="35.3" fill="#000">iB6+20</text>
<text transform="translate(1070.14,392.5) scale(1,1.04)" font-size="35.3" fill="#000">-24h</text>
<line x1="752.8" y1="446.2" x2="813.5" y2="446.2" stroke="#FF0000" stroke-width="5.7" stroke-linecap="butt"/>
<rect x="770.7" y="433.7" width="25" height="25" fill="#fff"/>
<rect x="773.3" y="436.3" width="19.8" height="19.8" fill="#FF0000"/>
<circle cx="783.2" cy="446.2" r="4.6" fill="#fff"/>
<text transform="translate(827.11,454.5) scale(1,1.04)" font-size="35.3" fill="#000">1 mg</text>
<text transform="translate(972.04,454.5) scale(1,1.04)" font-size="35.3" fill="#000">IgG</text>
<text transform="translate(1070.14,454.5) scale(1,1.04)" font-size="35.3" fill="#000">-24h</text>
<line x1="752.8" y1="571.8" x2="813.5" y2="571.8" stroke="#FF6600" stroke-width="5.7" stroke-linecap="butt"/>
<polygon points="783.2,560.6 794.4,571.8 783.2,583 772,571.8" fill="#FF6600"/>
<text transform="translate(827.11,584.9) scale(1,1.04)" font-size="35.3" fill="#000">1 mg</text>
<text transform="translate(963.01,584.9) scale(1,1.04)" font-size="35.3" fill="#000">iB14</text>
<text transform="translate(1074.24,584.9) scale(1,1.04)" font-size="35.3" fill="#000">-24h</text>
<line x1="752.8" y1="630.4" x2="813.5" y2="630.4" stroke="#005A00" stroke-width="5.7" stroke-linecap="butt"/>
<polygon points="783.2,619.1 794.7,641.7 771.7,641.7" fill="#005A00"/>
<text transform="translate(827.11,642) scale(1,1.04)" font-size="35.3" fill="#000">1 mg</text>
<text transform="translate(963.01,642) scale(1,1.04)" font-size="35.3" fill="#000">iB14</text>
<text transform="translate(1083.81,642) scale(1,1.04)" font-size="35.3" fill="#000">+6h</text>
<line x1="749.3" y1="691" x2="810" y2="691" stroke="#C2C000" stroke-width="5.7" stroke-linecap="butt"/>
<rect x="768.5" y="679.6" width="22.8" height="22.8" fill="#C2C000"/>
<text transform="translate(828.02,705.5) scale(1,1.04)" font-size="35.3" fill="#000">0.1 mg</text>
<text transform="translate(963.01,705.5) scale(1,1.04)" font-size="35.3" fill="#000">iB14</text>
<text transform="translate(1074.24,705.5) scale(1,1.04)" font-size="35.3" fill="#000">-24h</text>
<line x1="752.8" y1="756.2" x2="813.5" y2="756.2" stroke="#00C000" stroke-width="5.7" stroke-linecap="butt"/>
<polygon points="771.7,744.9 794.7,744.9 783.2,767.5" fill="#00C000"/>
<text transform="translate(826.82,767) scale(1,1.04)" font-size="35.3" fill="#000">0.1 mg</text>
<text transform="translate(966.91,767) scale(1,1.04)" font-size="35.3" fill="#000">iB14</text>
<text transform="translate(1078.41,767) scale(1,1.04)" font-size="35.3" fill="#000">+6h</text>
<line x1="752.8" y1="819.9" x2="813.5" y2="819.9" stroke="#A00000" stroke-width="5.7" stroke-linecap="butt"/>
<circle cx="783.2" cy="819.9" r="11" fill="#A00000"/>
<text transform="translate(827.11,832.5) scale(1,1.04)" font-size="35.3" fill="#000">1 mg</text>
<text transform="translate(966.91,832.5) scale(1,1.04)" font-size="35.3" fill="#000">iB14</text>
<text transform="translate(1061.88,832.5) scale(1,1.04)" font-size="35.3" fill="#000">+24h</text>
<line x1="752.8" y1="881" x2="813.5" y2="881" stroke="#FF0000" stroke-width="5.7" stroke-linecap="butt"/>
<rect x="770.7" y="868.5" width="25" height="25" fill="#fff"/>
<rect x="773.3" y="871.1" width="19.8" height="19.8" fill="#FF0000"/>
<circle cx="783.2" cy="881" r="4.6" fill="#fff"/>
<text transform="translate(827.11,893.5) scale(1,1.04)" font-size="35.3" fill="#000">1 mg</text>
<text transform="translate(972.04,893.5) scale(1,1.04)" font-size="35.3" fill="#000">IgG</text>
<text transform="translate(1069.54,893.5) scale(1,1.04)" font-size="35.3" fill="#000">-24h</text>
<line x1="1219.5" y1="52" x2="1219.5" y2="468" stroke="#AAAAAA" stroke-width="2.5" stroke-linecap="butt"/>
<line x1="1219.5" y1="540.4" x2="1219.5" y2="912" stroke="#AAAAAA" stroke-width="2.5" stroke-linecap="butt"/>
<line x1="1269.3" y1="52" x2="1269.3" y2="468" stroke="#AAAAAA" stroke-width="2.5" stroke-linecap="butt"/>
<line x1="1269.3" y1="540.4" x2="1269.3" y2="912" stroke="#AAAAAA" stroke-width="2.5" stroke-linecap="butt"/>
<line x1="1319.1" y1="52" x2="1319.1" y2="468" stroke="#AAAAAA" stroke-width="2.5" stroke-linecap="butt"/>
<line x1="1319.1" y1="540.4" x2="1319.1" y2="912" stroke="#AAAAAA" stroke-width="2.5" stroke-linecap="butt"/>
<line x1="1368.9" y1="52" x2="1368.9" y2="468" stroke="#AAAAAA" stroke-width="2.5" stroke-linecap="butt"/>
<line x1="1368.9" y1="540.4" x2="1368.9" y2="912" stroke="#AAAAAA" stroke-width="2.5" stroke-linecap="butt"/>
<line x1="1418.7" y1="52" x2="1418.7" y2="468" stroke="#AAAAAA" stroke-width="2.5" stroke-linecap="butt"/>
<line x1="1418.7" y1="540.4" x2="1418.7" y2="912" stroke="#AAAAAA" stroke-width="2.5" stroke-linecap="butt"/>
<line x1="1468.5" y1="52" x2="1468.5" y2="468" stroke="#AAAAAA" stroke-width="2.5" stroke-linecap="butt"/>
<line x1="1468.5" y1="540.4" x2="1468.5" y2="912" stroke="#AAAAAA" stroke-width="2.5" stroke-linecap="butt"/>
<line x1="1518.3" y1="52" x2="1518.3" y2="468" stroke="#AAAAAA" stroke-width="2.5" stroke-linecap="butt"/>
<line x1="1518.3" y1="540.4" x2="1518.3" y2="912" stroke="#AAAAAA" stroke-width="2.5" stroke-linecap="butt"/>
<line x1="1568.1" y1="52" x2="1568.1" y2="468" stroke="#AAAAAA" stroke-width="2.5" stroke-linecap="butt"/>
<line x1="1568.1" y1="540.4" x2="1568.1" y2="912" stroke="#AAAAAA" stroke-width="2.5" stroke-linecap="butt"/>
<ellipse cx="1219.6" cy="87.2" rx="14.25" ry="16.2" fill="#000080"/>
<circle cx="1320.4" cy="87.2" r="14.3" fill="#000080"/>
<line x1="1219.4" y1="87.3" x2="1311.6" y2="87.3" stroke="#000" stroke-width="2.6" stroke-linecap="butt"/>
<line x1="1219.4" y1="78.05" x2="1219.4" y2="96.55" stroke="#000" stroke-width="3" stroke-linecap="butt"/>
<line x1="1311.6" y1="78.05" x2="1311.6" y2="96.55" stroke="#000" stroke-width="3" stroke-linecap="butt"/>
<line x1="1296.4" y1="68" x2="1296.4" y2="106" stroke="#000080" stroke-width="5" stroke-linecap="butt"/>
<polygon points="1205.3,130 1233.9,130 1219.6,158.6" fill="#0000FF"/>
<line x1="1219.6" y1="126.9" x2="1219.6" y2="165" stroke="#0000FF" stroke-width="5" stroke-linecap="butt"/>
<polygon points="1219.6,190.7 1233.9,219.3 1205.3,219.3" fill="#138196"/>
<polygon points="1315.5,190.7 1329.8,219.3 1301.2,219.3" fill="#138196"/>
<line x1="1219.6" y1="204.8" x2="1315.5" y2="204.8" stroke="#000" stroke-width="2.6" stroke-linecap="butt"/>
<line x1="1219.6" y1="195.55" x2="1219.6" y2="214.05" stroke="#000" stroke-width="3" stroke-linecap="butt"/>
<line x1="1315.5" y1="195.55" x2="1315.5" y2="214.05" stroke="#000" stroke-width="3" stroke-linecap="butt"/>
<line x1="1300.8" y1="185.7" x2="1300.8" y2="224.4" stroke="#138196" stroke-width="5" stroke-linecap="butt"/>
<circle cx="1219.6" cy="263.8" r="12.6" fill="#000"/>
<circle cx="1219.6" cy="263.8" r="4.5" fill="#fff"/>
<line x1="1217.2" y1="245.3" x2="1222" y2="245.3" stroke="#000" stroke-width="2" stroke-linecap="butt"/>
<line x1="1217.2" y1="282.2" x2="1222" y2="282.2" stroke="#000" stroke-width="2" stroke-linecap="butt"/>
<rect x="1208.2" y="305.8" width="22.6" height="33.6" fill="#9C004A"/>
<rect x="1371.05" y="311.15" width="22.9" height="22.9" fill="#9C004A"/>
<line x1="1219.6" y1="322.3" x2="1373.5" y2="322.3" stroke="#000" stroke-width="2.6" stroke-linecap="butt"/>
<line x1="1219.6" y1="313.05" x2="1219.6" y2="331.55" stroke="#000" stroke-width="3" stroke-linecap="butt"/>
<line x1="1373.5" y1="313.05" x2="1373.5" y2="331.55" stroke="#000" stroke-width="3" stroke-linecap="butt"/>
<line x1="1358.3" y1="303.8" x2="1358.3" y2="342" stroke="#9C004A" stroke-width="5" stroke-linecap="butt"/>
<polygon points="1219.7,365.45 1234.2,381.7 1219.7,397.95 1205.2,381.7" fill="#F2147F"/>
<polygon points="1448.3,367.65 1462.46,381.9 1448.3,396.15 1434.14,381.9" fill="#F2147F"/>
<line x1="1219.6" y1="381.9" x2="1437.1" y2="381.9" stroke="#000" stroke-width="2.6" stroke-linecap="butt"/>
<line x1="1219.6" y1="372.65" x2="1219.6" y2="391.15" stroke="#000" stroke-width="3" stroke-linecap="butt"/>
<line x1="1437.1" y1="372.65" x2="1437.1" y2="391.15" stroke="#000" stroke-width="3" stroke-linecap="butt"/>
<line x1="1422.4" y1="362.3" x2="1422.4" y2="401" stroke="#F2147F" stroke-width="5" stroke-linecap="butt"/>
<rect x="1544.1" y="426" width="25" height="25" fill="#FF0000"/>
<circle cx="1556.6" cy="438.5" r="4" fill="#fff"/>
<rect x="1572.7" y="429.8" width="9.8" height="25.2" fill="#FF0000"/>
<circle cx="1571.5" cy="442" r="4" fill="#fff"/>
<rect x="1569.1" y="424" width="3.4" height="34" fill="#fff"/>
<line x1="1562.3" y1="421.1" x2="1562.3" y2="459.7" stroke="#FF0000" stroke-width="5.5" stroke-linecap="butt"/>
<line x1="1556.6" y1="431.1" x2="1556.6" y2="449.7" stroke="#000" stroke-width="2.8" stroke-linecap="butt"/>
<line x1="1566.5" y1="431.1" x2="1566.5" y2="449.7" stroke="#000" stroke-width="2.8" stroke-linecap="butt"/>
<polygon points="1219.4,555.3 1233.8,570.6 1219.4,585.9 1205,570.6" fill="#FF6600"/>
<polygon points="1224.5,559.7 1238.9,575 1224.5,590.3 1210.1,575" fill="#FF6600"/>
<polygon points="1289.5,558.1 1303.1,572.4 1289.5,586.7 1275.9,572.4" fill="#FF6600"/>
<line x1="1221.2" y1="571.8" x2="1275.9" y2="571.8" stroke="#000" stroke-width="2.6" stroke-linecap="butt"/>
<line x1="1221.2" y1="562.4" x2="1221.2" y2="581.2" stroke="#000" stroke-width="3" stroke-linecap="butt"/>
<line x1="1275.9" y1="562.4" x2="1275.9" y2="581.2" stroke="#000" stroke-width="3" stroke-linecap="butt"/>
<line x1="1262.2" y1="552.3" x2="1262.2" y2="592.5" stroke="#FF6600" stroke-width="5.7" stroke-linecap="butt"/>
<polygon points="1219.4,620.5 1233.7,649.1 1205.1,649.1" fill="#005A00"/>
<polygon points="1407.4,617.3 1421.7,645.7 1393.1,645.7" fill="#005A00"/>
<polygon points="1411.2,621.7 1425.5,651.3 1396.9,651.3" fill="#005A00"/>
<line x1="1385.5" y1="634.2" x2="1409.6" y2="634.2" stroke="#000" stroke-width="2.6" stroke-linecap="butt"/>
<line x1="1385.5" y1="624.8" x2="1385.5" y2="643.6" stroke="#000" stroke-width="3" stroke-linecap="butt"/>
<line x1="1409.6" y1="624.8" x2="1409.6" y2="643.6" stroke="#000" stroke-width="3" stroke-linecap="butt"/>
<line x1="1401" y1="614" x2="1401" y2="654.6" stroke="#005A00" stroke-width="5.7" stroke-linecap="butt"/>
<rect x="1208.1" y="684.9" width="22.8" height="22.8" fill="#C2C000"/>
<rect x="1337.9" y="678.6" width="22.8" height="22.8" fill="#C2C000"/>
<rect x="1369.9" y="691.3" width="22.8" height="22.8" fill="#C2C000"/>
<rect x="1386" y="678.6" width="22.8" height="22.8" fill="#C2C000"/>
<rect x="1422.1" y="684.9" width="22.8" height="22.8" fill="#C2C000"/>
<rect x="1412.8" y="691.3" width="22.8" height="22.8" fill="#C2C000"/>
<line x1="1393.5" y1="696.6" x2="1418.1" y2="696.6" stroke="#000" stroke-width="2.6" stroke-linecap="butt"/>
<line x1="1393.5" y1="686.85" x2="1393.5" y2="706.35" stroke="#000" stroke-width="3" stroke-linecap="butt"/>
<line x1="1418.1" y1="686.85" x2="1418.1" y2="706.35" stroke="#000" stroke-width="3" stroke-linecap="butt"/>
<line x1="1409" y1="676.4" x2="1409" y2="716.9" stroke="#C2C000" stroke-width="5.2" stroke-linecap="butt"/>
<polygon points="1472,741.4 1500.4,741.4 1486.2,770.1" fill="#00C000"/>
<polygon points="1479,743.3 1507.4,743.3 1493.2,772" fill="#00C000"/>
<polygon points="1497.3,744.9 1525.7,744.9 1511.5,773.6" fill="#00C000"/>
<polygon points="1503.3,747.1 1531.7,747.1 1517.5,775.8" fill="#00C000"/>
<line x1="1497.7" y1="758.3" x2="1511.7" y2="758.3" stroke="#000" stroke-width="2.6" stroke-linecap="butt"/>
<line x1="1497.7" y1="748.65" x2="1497.7" y2="767.95" stroke="#000" stroke-width="3" stroke-linecap="butt"/>
<line x1="1511.7" y1="748.65" x2="1511.7" y2="767.95" stroke="#000" stroke-width="3" stroke-linecap="butt"/>
<line x1="1505.6" y1="738.7" x2="1505.6" y2="778.8" stroke="#00C000" stroke-width="5.2" stroke-linecap="butt"/>
<circle cx="1476.4" cy="818" r="14.4" fill="#A00000"/>
<circle cx="1489" cy="819.5" r="14.4" fill="#A00000"/>
<circle cx="1501.2" cy="821.6" r="14.4" fill="#A00000"/>
<circle cx="1515.9" cy="823.8" r="14.4" fill="#A00000"/>
<circle cx="1532.6" cy="820.8" r="14.4" fill="#A00000"/>
<line x1="1498.9" y1="820.9" x2="1517.4" y2="820.9" stroke="#000" stroke-width="2.6" stroke-linecap="butt"/>
<line x1="1498.9" y1="811.1" x2="1498.9" y2="830.7" stroke="#000" stroke-width="3" stroke-linecap="butt"/>
<line x1="1517.4" y1="811.1" x2="1517.4" y2="830.7" stroke="#000" stroke-width="3" stroke-linecap="butt"/>
<line x1="1510.2" y1="800.8" x2="1510.2" y2="841.2" stroke="#A00000" stroke-width="5.3" stroke-linecap="butt"/>
<rect x="1506.6" y="866.4" width="31.2" height="31.2" fill="#fff"/>
<rect x="1509.6" y="869.4" width="25.2" height="25.2" fill="#FF0000"/>
<circle cx="1522.2" cy="882" r="4.1" fill="#fff"/>
<rect x="1485.25" y="864.45" width="31.3" height="31.3" fill="#fff"/>
<rect x="1488.25" y="867.45" width="25.3" height="25.3" fill="#FF0000"/>
<circle cx="1500.9" cy="880.1" r="4.1" fill="#fff"/>
<rect x="1528.2" y="867.5" width="31.2" height="31.2" fill="#fff"/>
<rect x="1531.2" y="870.5" width="25.2" height="25.2" fill="#FF0000"/>
<circle cx="1543.8" cy="883.1" r="4.1" fill="#fff"/>
<line x1="1513.6" y1="883.2" x2="1531.1" y2="883.2" stroke="#000" stroke-width="2.6" stroke-linecap="butt"/>
<line x1="1513.6" y1="873.7" x2="1513.6" y2="892.7" stroke="#000" stroke-width="3" stroke-linecap="butt"/>
<line x1="1531.1" y1="873.7" x2="1531.1" y2="892.7" stroke="#000" stroke-width="3" stroke-linecap="butt"/>
<line x1="1524" y1="863" x2="1524" y2="903.2" stroke="#FF0000" stroke-width="5.5" stroke-linecap="butt"/>
<line x1="1170.2" y1="53.4" x2="1170.2" y2="470.2" stroke="#000" stroke-width="2.2" stroke-linecap="butt"/>
<line x1="1169.1" y1="469.1" x2="1585.2" y2="469.1" stroke="#000" stroke-width="2.2" stroke-linecap="butt"/>
<line x1="1169.7" y1="469.1" x2="1169.7" y2="484.4" stroke="#000" stroke-width="2.2" stroke-linecap="butt"/>
<line x1="1219.5" y1="469.1" x2="1219.5" y2="484.4" stroke="#000" stroke-width="2.2" stroke-linecap="butt"/>
<line x1="1269.3" y1="469.1" x2="1269.3" y2="484.4" stroke="#000" stroke-width="2.2" stroke-linecap="butt"/>
<line x1="1319.1" y1="469.1" x2="1319.1" y2="484.4" stroke="#000" stroke-width="2.2" stroke-linecap="butt"/>
<line x1="1368.9" y1="469.1" x2="1368.9" y2="484.4" stroke="#000" stroke-width="2.2" stroke-linecap="butt"/>
<line x1="1418.7" y1="469.1" x2="1418.7" y2="484.4" stroke="#000" stroke-width="2.2" stroke-linecap="butt"/>
<line x1="1468.5" y1="469.1" x2="1468.5" y2="484.4" stroke="#000" stroke-width="2.2" stroke-linecap="butt"/>
<line x1="1518.3" y1="469.1" x2="1518.3" y2="484.4" stroke="#000" stroke-width="2.2" stroke-linecap="butt"/>
<line x1="1568.1" y1="469.1" x2="1568.1" y2="484.4" stroke="#000" stroke-width="2.2" stroke-linecap="butt"/>
<line x1="1155" y1="86.9" x2="1170.2" y2="86.9" stroke="#000" stroke-width="2.2" stroke-linecap="butt"/>
<line x1="1155" y1="145.7" x2="1170.2" y2="145.7" stroke="#000" stroke-width="2.2" stroke-linecap="butt"/>
<line x1="1155" y1="204.5" x2="1170.2" y2="204.5" stroke="#000" stroke-width="2.2" stroke-linecap="butt"/>
<line x1="1155" y1="263.3" x2="1170.2" y2="263.3" stroke="#000" stroke-width="2.2" stroke-linecap="butt"/>
<line x1="1155" y1="322.1" x2="1170.2" y2="322.1" stroke="#000" stroke-width="2.2" stroke-linecap="butt"/>
<line x1="1155" y1="380.9" x2="1170.2" y2="380.9" stroke="#000" stroke-width="2.2" stroke-linecap="butt"/>
<line x1="1155" y1="439.7" x2="1170.2" y2="439.7" stroke="#000" stroke-width="2.2" stroke-linecap="butt"/>
<line x1="1170.2" y1="539.7" x2="1170.2" y2="914.2" stroke="#000" stroke-width="2.2" stroke-linecap="butt"/>
<line x1="1169.1" y1="913.1" x2="1584.5" y2="913.1" stroke="#000" stroke-width="2.2" stroke-linecap="butt"/>
<line x1="1169.7" y1="913.1" x2="1169.7" y2="928.5" stroke="#000" stroke-width="2.2" stroke-linecap="butt"/>
<line x1="1219.5" y1="913.1" x2="1219.5" y2="928.5" stroke="#000" stroke-width="2.2" stroke-linecap="butt"/>
<line x1="1269.3" y1="913.1" x2="1269.3" y2="928.5" stroke="#000" stroke-width="2.2" stroke-linecap="butt"/>
<line x1="1319.1" y1="913.1" x2="1319.1" y2="928.5" stroke="#000" stroke-width="2.2" stroke-linecap="butt"/>
<line x1="1368.9" y1="913.1" x2="1368.9" y2="928.5" stroke="#000" stroke-width="2.2" stroke-linecap="butt"/>
<line x1="1418.7" y1="913.1" x2="1418.7" y2="928.5" stroke="#000" stroke-width="2.2" stroke-linecap="butt"/>
<line x1="1468.5" y1="913.1" x2="1468.5" y2="928.5" stroke="#000" stroke-width="2.2" stroke-linecap="butt"/>
<line x1="1518.3" y1="913.1" x2="1518.3" y2="928.5" stroke="#000" stroke-width="2.2" stroke-linecap="butt"/>
<line x1="1568.1" y1="913.1" x2="1568.1" y2="928.5" stroke="#000" stroke-width="2.2" stroke-linecap="butt"/>
<line x1="1155" y1="571.8" x2="1170.2" y2="571.8" stroke="#000" stroke-width="2.2" stroke-linecap="butt"/>
<line x1="1155" y1="633.8" x2="1170.2" y2="633.8" stroke="#000" stroke-width="2.2" stroke-linecap="butt"/>
<line x1="1155" y1="695.8" x2="1170.2" y2="695.8" stroke="#000" stroke-width="2.2" stroke-linecap="butt"/>
<line x1="1155" y1="757.8" x2="1170.2" y2="757.8" stroke="#000" stroke-width="2.2" stroke-linecap="butt"/>
<line x1="1155" y1="819.8" x2="1170.2" y2="819.8" stroke="#000" stroke-width="2.2" stroke-linecap="butt"/>
<line x1="1155" y1="881.8" x2="1170.2" y2="881.8" stroke="#000" stroke-width="2.2" stroke-linecap="butt"/>
<text transform="translate(1151.89,965.5) scale(1,1.04)" font-size="34" fill="#000">-1</text>
<text transform="translate(1210.05,965.5) scale(1,1.04)" font-size="34" fill="#000">0</text>
<text transform="translate(1259.38,965.5) scale(1,1.04)" font-size="34" fill="#000">1</text>
<text transform="translate(1309.65,965.5) scale(1,1.04)" font-size="34" fill="#000">2</text>
<text transform="translate(1359.55,965.5) scale(1,1.04)" font-size="34" fill="#000">3</text>
<text transform="translate(1409.35,965.5) scale(1,1.04)" font-size="34" fill="#000">4</text>
<text transform="translate(1459.08,965.5) scale(1,1.04)" font-size="34" fill="#000">5</text>
<text transform="translate(1508.73,965.5) scale(1,1.04)" font-size="34" fill="#000">6</text>
<text transform="translate(1558.63,965.5) scale(1,1.04)" font-size="34" fill="#000">7</text>
<text transform="translate(1246.86,1003.5) scale(1,1.04)" font-size="36.2" fill="#000">copies/mg (log10)</text>
<polyline points="1573.7,61 1586.5,61 1586.5,392.3 1573.7,392.3" fill="none" stroke="#000" stroke-width="2.4" stroke-linejoin="miter" stroke-linecap="butt"/>
<polyline points="1586.5,192.6 1598,192.6 1598,460.2 1577,460.2" fill="none" stroke="#000" stroke-width="2.4" stroke-linejoin="miter" stroke-linecap="butt"/>
<polyline points="1575.5,544.8 1586.4,544.8 1586.4,709.2 1574.7,709.2" fill="none" stroke="#000" stroke-width="2.4" stroke-linejoin="miter" stroke-linecap="butt"/>
<polyline points="1586.4,628.1 1598.4,628.1 1598.4,895.6 1576.7,895.6" fill="none" stroke="#000" stroke-width="2.4" stroke-linejoin="miter" stroke-linecap="butt"/>
<text transform="translate(1552.29,57.84) scale(1,1.04)" font-size="31.5" letter-spacing="2" stroke="#000" stroke-width="0.6" fill="#000">****</text>
<text transform="translate(1569.09,543.74) scale(1,1.04)" font-size="31.5" letter-spacing="2" stroke="#000" stroke-width="0.6" fill="#000">**</text>
<line x1="1666.3" y1="53" x2="1666.3" y2="468" stroke="#AAAAAA" stroke-width="2.5" stroke-linecap="butt"/>
<line x1="1760.8" y1="53" x2="1760.8" y2="468" stroke="#AAAAAA" stroke-width="2.5" stroke-linecap="butt"/>
<line x1="1855" y1="53" x2="1855" y2="468" stroke="#AAAAAA" stroke-width="2.5" stroke-linecap="butt"/>
<line x1="1949.4" y1="53" x2="1949.4" y2="468" stroke="#AAAAAA" stroke-width="2.5" stroke-linecap="butt"/>
<line x1="1638.6" y1="53.4" x2="1638.6" y2="469.8" stroke="#000" stroke-width="2.2" stroke-linecap="butt"/>
<line x1="1637.5" y1="468.7" x2="1971" y2="468.7" stroke="#000" stroke-width="2.2" stroke-linecap="butt"/>
<line x1="1666.3" y1="468.7" x2="1666.3" y2="482.5" stroke="#000" stroke-width="2.2" stroke-linecap="butt"/>
<line x1="1760.8" y1="468.7" x2="1760.8" y2="482.5" stroke="#000" stroke-width="2.2" stroke-linecap="butt"/>
<line x1="1855" y1="468.7" x2="1855" y2="482.5" stroke="#000" stroke-width="2.2" stroke-linecap="butt"/>
<line x1="1949.4" y1="468.7" x2="1949.4" y2="482.5" stroke="#000" stroke-width="2.2" stroke-linecap="butt"/>
<line x1="1622.4" y1="91.5" x2="1638.6" y2="91.5" stroke="#000" stroke-width="2.2" stroke-linecap="butt"/>
<line x1="1622.4" y1="148" x2="1638.6" y2="148" stroke="#000" stroke-width="2.2" stroke-linecap="butt"/>
<line x1="1622.4" y1="204.5" x2="1638.6" y2="204.5" stroke="#000" stroke-width="2.2" stroke-linecap="butt"/>
<line x1="1622.4" y1="261" x2="1638.6" y2="261" stroke="#000" stroke-width="2.2" stroke-linecap="butt"/>
<line x1="1622.4" y1="317.5" x2="1638.6" y2="317.5" stroke="#000" stroke-width="2.2" stroke-linecap="butt"/>
<line x1="1622.4" y1="374" x2="1638.6" y2="374" stroke="#000" stroke-width="2.2" stroke-linecap="butt"/>
<line x1="1622.4" y1="430.5" x2="1638.6" y2="430.5" stroke="#000" stroke-width="2.2" stroke-linecap="butt"/>
<ellipse cx="1855" cy="92.8" rx="14.1" ry="15.3" fill="#000080"/>
<polygon points="1746.45,133.45 1775.15,133.45 1760.8,163.95" fill="#0000FF"/>
<polygon points="1855,190.5 1869.35,220.5 1840.65,220.5" fill="#1399B4"/>
<circle cx="1666.3" cy="261.4" r="12.4" fill="#000"/>
<circle cx="1666.3" cy="261.4" r="4.5" fill="#fff"/>
<rect x="1749.35" y="307.45" width="22.9" height="22.5" fill="#9C004A"/>
<rect x="1843.95" y="302" width="22.1" height="31.8" fill="#9C004A"/>
<polygon points="1855,360.1 1869,374.6 1855,389.1 1841,374.6" fill="#F2147F"/>
<rect x="1937" y="418.8" width="25.2" height="25.2" fill="#FF0000"/>
<circle cx="1949.6" cy="431.4" r="4.6" fill="#fff"/>
<text transform="translate(1678.3,603.14) rotate(-90) scale(1,1.04)" font-size="35.3" fill="#000">Absent</text>
<text transform="translate(1772.8,555.95) rotate(-90) scale(1,1.04)" font-size="35.3" fill="#000">Mild</text>
<text transform="translate(1867,641.06) rotate(-90) scale(1,1.04)" font-size="35.3" fill="#000">Moderate</text>
<text transform="translate(1961.4,603.78) rotate(-90) scale(1,1.04)" font-size="35.3" fill="#000">Severe</text>
<text transform="translate(4.35,29.8) scale(1,1.04)" font-size="39.3" font-weight="bold" fill="#000">a</text>
<text transform="translate(265.66,30.2) scale(1,1.04)" font-size="39.3" font-weight="bold" fill="#000">Weight change</text>
<text transform="translate(1151.41,30.5) scale(1,1.04)" font-size="39.3" font-weight="bold" fill="#000">b</text>
<text transform="translate(1277.13,30.5) scale(1,1.04)" font-size="39.3" font-weight="bold" fill="#000">Viral load</text>
<text transform="translate(1628.96,31) scale(1,1.04)" font-size="39.3" font-weight="bold" fill="#000">c Lung pathology</text>
<line x1="157.7" y1="1007.3" x2="157.7" y2="1033.4" stroke="#066A30" stroke-width="3.8" stroke-linecap="butt"/>
<polygon points="157.7,965.5 169.1,1008.3 146.3,1008.3" fill="#066A30"/>
<line x1="241.2" y1="1005.8" x2="241.2" y2="1065.4" stroke="#FF0000" stroke-width="3.8" stroke-linecap="butt"/>
<polygon points="241.2,965.2 252.8,1006.8 229.6,1006.8" fill="#FF0000"/>
<line x1="266.8" y1="1006" x2="266.8" y2="1033" stroke="#066A30" stroke-width="3.8" stroke-linecap="butt"/>
<polygon points="266.8,965.2 278.2,1007 255.4,1007" fill="#066A30"/>
<line x1="322.2" y1="1006.8" x2="322.2" y2="1033.4" stroke="#066A30" stroke-width="3.8" stroke-linecap="butt"/>
<polygon points="322.2,965.5 333.6,1007.8 310.8,1007.8" fill="#066A30"/>
<line x1="650.8" y1="1007" x2="650.8" y2="1033" stroke="#000" stroke-width="3.8" stroke-linecap="butt"/>
<polygon points="650.8,967 662,1008 639.6,1008" fill="#000"/>
<text transform="translate(23.53,1024.3) scale(1,1.04)" font-size="35.3" fill="#005E00">-24h</text>
<text transform="translate(3.5,1061.5) scale(1,1.04)" font-size="35.3" fill="#005E00">Pre-treatment</text>
<text transform="translate(256.41,1063.4) scale(1,1.04)" font-size="35.3" fill="#005E00">Treatment +6h/+24h</text>
<text transform="translate(159.74,1098.4) scale(1,1.04)" font-size="35.3" fill="#FF0000">Infection +0h</text>
<text transform="translate(614.1,1064.4) scale(1,1.04)" font-size="35.3" fill="#000">RT-qPCR analysis of viral load</text>
<text transform="translate(1709.29,751.4) scale(1,1.04)" font-size="34.5" stroke="#000" stroke-width="0.5" fill="#000">**</text>
<text transform="translate(1736.73,752.4) scale(1,1.04)" font-size="35" fill="#000">P &lt; 0.01</text>
<text transform="translate(1695.86,792.9) scale(1,1.04)" font-size="34.5" stroke="#000" stroke-width="0.5" fill="#000">***</text>
<text transform="translate(1736.73,793.9) scale(1,1.04)" font-size="35" fill="#000">P &lt; 0.001</text>
<text transform="translate(1682.43,839.7) scale(1,1.04)" font-size="34.5" stroke="#000" stroke-width="0.5" fill="#000">****</text>
<text transform="translate(1736.73,840.7) scale(1,1.04)" font-size="35" fill="#000">P &lt; 0.0001</text>
<text transform="translate(1640.23,936.2) scale(1,1.04)" font-size="35" fill="#000">Animals per group</text>
<text transform="translate(1637.43,978.7) scale(1,1.04)" font-size="35" fill="#000">Experiment 1: N=3</text>
<text transform="translate(1637.43,1020) scale(1,1.04)" font-size="35" fill="#000">Experiment 2: N=6-7</text>
</svg>
</body></html>
